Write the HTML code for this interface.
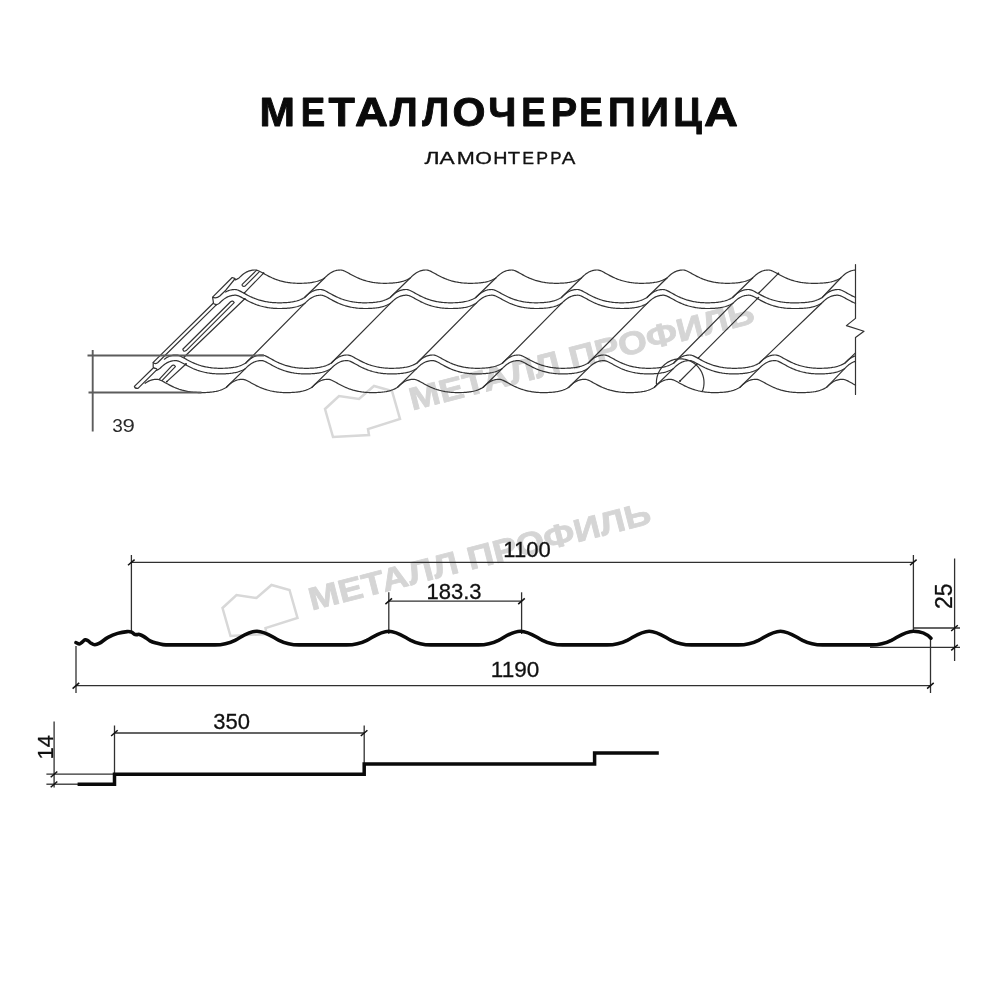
<!DOCTYPE html>
<html><head><meta charset="utf-8">
<title>Металлочерепица Ламонтерра</title>
<style>
html,body{margin:0;padding:0;background:#fff;}
body{width:1000px;height:1000px;position:relative;overflow:hidden;font-family:"Liberation Sans",sans-serif;}
svg{position:absolute;left:0;top:0;will-change:transform;}
.t{font-family:"Liberation Sans",sans-serif;fill:#111;stroke:#111;stroke-width:0.3px;}
</style></head><body>
<svg width="1000" height="1000" viewBox="0 0 1000 1000">
<rect width="1000" height="1000" fill="#fff"/>
<g>
<path transform="translate(0,0)" d="M325,409 L339,396 L359,399 L374,386 L392,391 L400,419 L368,429 L369,435 L333,437 Z" fill="none" stroke="#d8d8d8" stroke-width="2.5" stroke-linejoin="miter"/>
<text transform="translate(412.3,410.6) rotate(-14.4)" font-family="Liberation Sans, sans-serif" font-weight="bold" font-size="32" textLength="355" lengthAdjust="spacingAndGlyphs" fill="#d5d5d5" stroke="#d5d5d5" stroke-width="0.8" stroke-linejoin="round">МЕТАЛЛ ПРОФИЛЬ</text>
</g>
<g>
<path transform="translate(-102.5,199)" d="M325,409 L339,396 L359,399 L374,386 L392,391 L400,419 L368,429 L369,435 L333,437 Z" fill="none" stroke="#d8d8d8" stroke-width="2.5" stroke-linejoin="miter"/>
<text transform="translate(311.8,610.6) rotate(-14.4)" font-family="Liberation Sans, sans-serif" font-weight="bold" font-size="32" textLength="352" lengthAdjust="spacingAndGlyphs" fill="#d5d5d5" stroke="#d5d5d5" stroke-width="0.8" stroke-linejoin="round">МЕТАЛЛ ПРОФИЛЬ</text>
</g>
<text transform="translate(259.59,126.2) scale(1.0385,1)" font-family="Liberation Sans, sans-serif" font-weight="bold" font-size="41" fill="#0a0a0a" stroke="#0a0a0a" stroke-width="0.9" stroke-linejoin="round">М</text>
<text transform="translate(300.76,126.2) scale(0.8944,1)" font-family="Liberation Sans, sans-serif" font-weight="bold" font-size="41" fill="#0a0a0a" stroke="#0a0a0a" stroke-width="0.9" stroke-linejoin="round">Е</text>
<text transform="translate(328.55,126.2) scale(1.0526,1)" font-family="Liberation Sans, sans-serif" font-weight="bold" font-size="41" fill="#0a0a0a" stroke="#0a0a0a" stroke-width="0.9" stroke-linejoin="round">Т</text>
<text transform="translate(355.04,126.2) scale(1.1140,1)" font-family="Liberation Sans, sans-serif" font-weight="bold" font-size="41" fill="#0a0a0a" stroke="#0a0a0a" stroke-width="0.9" stroke-linejoin="round">А</text>
<text transform="translate(389.75,126.2) scale(0.9709,1)" font-family="Liberation Sans, sans-serif" font-weight="bold" font-size="41" fill="#0a0a0a" stroke="#0a0a0a" stroke-width="0.9" stroke-linejoin="round">Л</text>
<text transform="translate(422.25,126.2) scale(0.9366,1)" font-family="Liberation Sans, sans-serif" font-weight="bold" font-size="41" fill="#0a0a0a" stroke="#0a0a0a" stroke-width="0.9" stroke-linejoin="round">Л</text>
<text transform="translate(452.43,126.2) scale(1.0349,1)" font-family="Liberation Sans, sans-serif" font-weight="bold" font-size="41" fill="#0a0a0a" stroke="#0a0a0a" stroke-width="0.9" stroke-linejoin="round">О</text>
<text transform="translate(488.37,126.2) scale(0.9777,1)" font-family="Liberation Sans, sans-serif" font-weight="bold" font-size="41" fill="#0a0a0a" stroke="#0a0a0a" stroke-width="0.9" stroke-linejoin="round">Ч</text>
<text transform="translate(521.17,126.2) scale(0.8902,1)" font-family="Liberation Sans, sans-serif" font-weight="bold" font-size="41" fill="#0a0a0a" stroke="#0a0a0a" stroke-width="0.9" stroke-linejoin="round">Е</text>
<text transform="translate(550.67,126.2) scale(0.9662,1)" font-family="Liberation Sans, sans-serif" font-weight="bold" font-size="41" fill="#0a0a0a" stroke="#0a0a0a" stroke-width="0.9" stroke-linejoin="round">Р</text>
<text transform="translate(579.26,126.2) scale(0.8565,1)" font-family="Liberation Sans, sans-serif" font-weight="bold" font-size="41" fill="#0a0a0a" stroke="#0a0a0a" stroke-width="0.9" stroke-linejoin="round">Е</text>
<text transform="translate(607.94,126.2) scale(0.9408,1)" font-family="Liberation Sans, sans-serif" font-weight="bold" font-size="41" fill="#0a0a0a" stroke="#0a0a0a" stroke-width="0.9" stroke-linejoin="round">П</text>
<text transform="translate(640.16,126.2) scale(0.9736,1)" font-family="Liberation Sans, sans-serif" font-weight="bold" font-size="41" fill="#0a0a0a" stroke="#0a0a0a" stroke-width="0.9" stroke-linejoin="round">И</text>
<text transform="translate(673.30,126.2) scale(0.9547,1)" font-family="Liberation Sans, sans-serif" font-weight="bold" font-size="41" fill="#0a0a0a" stroke="#0a0a0a" stroke-width="0.9" stroke-linejoin="round">Ц</text>
<text transform="translate(703.92,126.2) scale(1.1459,1)" font-family="Liberation Sans, sans-serif" font-weight="bold" font-size="41" fill="#0a0a0a" stroke="#0a0a0a" stroke-width="0.9" stroke-linejoin="round">А</text>
<text transform="translate(424.55,163.5) scale(1.4748,1)" font-family="Liberation Sans, sans-serif" font-weight="normal" font-size="15.6" fill="#111" stroke="#111" stroke-width="0.3" stroke-linejoin="round">Л</text>
<text transform="translate(439.55,163.5) scale(1.4597,1)" font-family="Liberation Sans, sans-serif" font-weight="normal" font-size="15.6" fill="#111" stroke="#111" stroke-width="0.3" stroke-linejoin="round">А</text>
<text transform="translate(456.86,163.5) scale(1.3893,1)" font-family="Liberation Sans, sans-serif" font-weight="normal" font-size="15.6" fill="#111" stroke="#111" stroke-width="0.3" stroke-linejoin="round">М</text>
<text transform="translate(475.15,163.5) scale(1.3706,1)" font-family="Liberation Sans, sans-serif" font-weight="normal" font-size="15.6" fill="#111" stroke="#111" stroke-width="0.3" stroke-linejoin="round">О</text>
<text transform="translate(493.21,163.5) scale(1.2650,1)" font-family="Liberation Sans, sans-serif" font-weight="normal" font-size="15.6" fill="#111" stroke="#111" stroke-width="0.3" stroke-linejoin="round">Н</text>
<text transform="translate(507.83,163.5) scale(1.2971,1)" font-family="Liberation Sans, sans-serif" font-weight="normal" font-size="15.6" fill="#111" stroke="#111" stroke-width="0.3" stroke-linejoin="round">Т</text>
<text transform="translate(522.36,163.5) scale(1.1369,1)" font-family="Liberation Sans, sans-serif" font-weight="normal" font-size="15.6" fill="#111" stroke="#111" stroke-width="0.3" stroke-linejoin="round">Е</text>
<text transform="translate(536.36,163.5) scale(1.1369,1)" font-family="Liberation Sans, sans-serif" font-weight="normal" font-size="15.6" fill="#111" stroke="#111" stroke-width="0.3" stroke-linejoin="round">Р</text>
<text transform="translate(550.22,163.5) scale(1.0901,1)" font-family="Liberation Sans, sans-serif" font-weight="normal" font-size="15.6" fill="#111" stroke="#111" stroke-width="0.3" stroke-linejoin="round">Р</text>
<text transform="translate(561.75,163.5) scale(1.3070,1)" font-family="Liberation Sans, sans-serif" font-weight="normal" font-size="15.6" fill="#111" stroke="#111" stroke-width="0.3" stroke-linejoin="round">А</text>
<g fill="none" stroke="#333" stroke-width="1.2" stroke-linecap="round" stroke-linejoin="round">
<path d="M235.40,279.88 L236.40,279.41 L237.40,278.90 L238.40,278.35 L239.00,278.00 L239.40,277.59 L240.40,276.61 L241.40,275.69 L242.40,274.82 L243.40,274.03 L244.40,273.31 L245.40,272.66 L246.40,272.09 L247.40,271.60 L248.40,271.18 L249.40,270.83 L250.40,270.55 L251.40,270.33 L252.40,270.17 L253.40,270.06 L254.40,270.01 L255.00,270.00 L255.40,270.02 L256.40,270.16 L257.40,270.44 L258.40,270.81 L259.40,271.26 L260.40,271.75 L261.40,272.28 L262.40,272.82 L263.40,273.38 L264.40,273.94 L265.40,274.50 L266.40,275.04 L267.40,275.58 L268.40,276.10 L269.40,276.60 L270.40,277.08 L271.40,277.55 L272.40,278.00 L273.40,278.42 L274.40,278.83 L275.40,279.22 L276.40,279.59 L277.40,279.94 L278.40,280.26 L279.40,280.57 L280.40,280.87 L281.40,281.14 L282.40,281.39 L283.40,281.63 L284.40,281.85 L285.40,282.05 L286.40,282.24 L287.40,282.40 L288.40,282.55 L289.40,282.69 L290.40,282.81 L291.40,282.93 L292.40,283.02 L293.40,283.10 L294.40,283.16 L295.40,283.22 L296.40,283.25 L297.40,283.28 L298.40,283.29 L299.40,283.30 L300.40,283.29 L301.40,283.28 L302.40,283.26 L303.40,283.23 L304.40,283.19 L305.40,283.13 L306.40,283.07 L307.40,283.00 L308.40,282.91 L309.40,282.80 L310.40,282.69 L311.40,282.55 L312.40,282.39 L313.40,282.21 L314.40,282.01 L315.40,281.77 L316.40,281.51 L317.40,281.22 L318.40,280.90 L319.40,280.54 L320.40,280.14 L321.40,279.70 L322.40,279.22 L323.40,278.69 L324.40,278.12 L324.60,278.00 L325.40,277.20 L326.40,276.24 L327.40,275.33 L328.40,274.49 L329.40,273.73 L330.40,273.04 L331.40,272.42 L332.40,271.89 L333.40,271.42 L334.40,271.03 L335.40,270.71 L336.40,270.45 L337.40,270.26 L338.40,270.12 L339.40,270.04 L340.40,270.00 L340.60,270.00 L341.40,270.06 L342.40,270.26 L343.40,270.57 L344.40,270.98 L345.40,271.45 L346.40,271.96 L347.40,272.49 L348.40,273.05 L349.40,273.61 L350.40,274.16 L351.40,274.72 L352.40,275.26 L353.40,275.79 L354.40,276.30 L355.40,276.79 L356.40,277.27 L357.40,277.73 L358.40,278.17 L359.40,278.59 L360.40,278.99 L361.40,279.37 L362.40,279.73 L363.40,280.07 L364.40,280.39 L365.40,280.69 L366.40,280.97 L367.40,281.24 L368.40,281.49 L369.40,281.71 L370.40,281.93 L371.40,282.12 L372.40,282.30 L373.40,282.47 L374.40,282.61 L375.40,282.75 L376.40,282.86 L377.40,282.96 L378.40,283.05 L379.40,283.12 L380.40,283.19 L381.40,283.23 L382.40,283.27 L383.40,283.29 L384.40,283.30 L385.40,283.30 L386.40,283.29 L387.40,283.27 L388.40,283.25 L389.40,283.21 L390.40,283.17 L391.40,283.11 L392.40,283.04 L393.40,282.96 L394.40,282.87 L395.40,282.76 L396.40,282.63 L397.40,282.49 L398.40,282.32 L399.40,282.13 L400.40,281.92 L401.40,281.67 L402.40,281.40 L403.40,281.10 L404.40,280.76 L405.40,280.38 L406.40,279.97 L407.40,279.51 L408.40,279.01 L409.40,278.47 L410.20,278.00 L410.40,277.80 L411.40,276.81 L412.40,275.87 L413.40,274.99 L414.40,274.18 L415.40,273.44 L416.40,272.78 L417.40,272.20 L418.40,271.69 L419.40,271.26 L420.40,270.89 L421.40,270.60 L422.40,270.37 L423.40,270.20 L424.40,270.08 L425.40,270.02 L426.20,270.00 L426.40,270.01 L427.40,270.12 L428.40,270.37 L429.40,270.73 L430.40,271.16 L431.40,271.65 L432.40,272.17 L433.40,272.71 L434.40,273.27 L435.40,273.83 L436.40,274.39 L437.40,274.93 L438.40,275.47 L439.40,275.99 L440.40,276.50 L441.40,276.99 L442.40,277.46 L443.40,277.91 L444.40,278.34 L445.40,278.75 L446.40,279.14 L447.40,279.52 L448.40,279.87 L449.40,280.20 L450.40,280.51 L451.40,280.81 L452.40,281.08 L453.40,281.34 L454.40,281.58 L455.40,281.80 L456.40,282.01 L457.40,282.20 L458.40,282.37 L459.40,282.53 L460.40,282.67 L461.40,282.79 L462.40,282.91 L463.40,283.00 L464.40,283.09 L465.40,283.15 L466.40,283.21 L467.40,283.25 L468.40,283.28 L469.40,283.29 L470.40,283.30 L471.40,283.29 L472.40,283.28 L473.40,283.26 L474.40,283.23 L475.40,283.19 L476.40,283.15 L477.40,283.09 L478.40,283.01 L479.40,282.93 L480.40,282.83 L481.40,282.71 L482.40,282.58 L483.40,282.42 L484.40,282.25 L485.40,282.05 L486.40,281.82 L487.40,281.57 L488.40,281.29 L489.40,280.97 L490.40,280.61 L491.40,280.22 L492.40,279.79 L493.40,279.32 L494.40,278.80 L495.40,278.24 L495.80,278.00 L496.40,277.39 L497.40,276.42 L498.40,275.51 L499.40,274.66 L500.40,273.88 L501.40,273.17 L502.40,272.54 L503.40,271.99 L504.40,271.51 L505.40,271.10 L506.40,270.77 L507.40,270.50 L508.40,270.29 L509.40,270.14 L510.40,270.05 L511.40,270.00 L511.80,270.00 L512.40,270.03 L513.40,270.21 L514.40,270.51 L515.40,270.89 L516.40,271.35 L517.40,271.85 L518.40,272.39 L519.40,272.94 L520.40,273.49 L521.40,274.05 L522.40,274.61 L523.40,275.15 L524.40,275.68 L525.40,276.20 L526.40,276.70 L527.40,277.18 L528.40,277.64 L529.40,278.09 L530.40,278.51 L531.40,278.91 L532.40,279.29 L533.40,279.66 L534.40,280.00 L535.40,280.33 L536.40,280.63 L537.40,280.92 L538.40,281.19 L539.40,281.44 L540.40,281.67 L541.40,281.89 L542.40,282.08 L543.40,282.27 L544.40,282.43 L545.40,282.58 L546.40,282.72 L547.40,282.84 L548.40,282.95 L549.40,283.03 L550.40,283.11 L551.40,283.17 L552.40,283.22 L553.40,283.26 L554.40,283.28 L555.40,283.30 L556.40,283.30 L557.40,283.29 L558.40,283.28 L559.40,283.25 L560.40,283.22 L561.40,283.18 L562.40,283.12 L563.40,283.06 L564.40,282.98 L565.40,282.89 L566.40,282.78 L567.40,282.66 L568.40,282.52 L569.40,282.35 L570.40,282.17 L571.40,281.96 L572.40,281.73 L573.40,281.46 L574.40,281.16 L575.40,280.83 L576.40,280.46 L577.40,280.05 L578.40,279.61 L579.40,279.11 L580.40,278.58 L581.40,278.00 L582.40,277.00 L583.40,276.05 L584.40,275.16 L585.40,274.34 L586.40,273.59 L587.40,272.91 L588.40,272.31 L589.40,271.79 L590.40,271.34 L591.40,270.96 L592.40,270.65 L593.40,270.41 L594.40,270.22 L595.40,270.10 L596.40,270.02 L597.40,270.00 L598.40,270.09 L599.40,270.32 L600.40,270.65 L601.40,271.07 L602.40,271.55 L603.40,272.06 L604.40,272.60 L605.40,273.16 L606.40,273.72 L607.40,274.28 L608.40,274.83 L609.40,275.36 L610.40,275.89 L611.40,276.40 L612.40,276.89 L613.40,277.37 L614.40,277.82 L615.40,278.26 L616.40,278.67 L617.40,279.07 L618.40,279.44 L619.40,279.80 L620.40,280.13 L621.40,280.45 L622.40,280.75 L623.40,281.03 L624.40,281.29 L625.40,281.53 L626.40,281.76 L627.40,281.97 L628.40,282.16 L629.40,282.33 L630.40,282.50 L631.40,282.64 L632.40,282.77 L633.40,282.88 L634.40,282.98 L635.40,283.07 L636.40,283.14 L637.40,283.20 L638.40,283.24 L639.40,283.28 L640.40,283.29 L641.40,283.30 L642.40,283.30 L643.40,283.29 L644.40,283.27 L645.40,283.24 L646.40,283.20 L647.40,283.16 L648.40,283.10 L649.40,283.03 L650.40,282.95 L651.40,282.85 L652.40,282.74 L653.40,282.60 L654.40,282.45 L655.40,282.28 L656.40,282.09 L657.40,281.87 L658.40,281.62 L659.40,281.34 L660.40,281.03 L661.40,280.69 L662.40,280.30 L663.40,279.88 L664.40,279.41 L665.40,278.90 L666.40,278.35 L667.00,278.00 L667.40,277.59 L668.40,276.61 L669.40,275.69 L670.40,274.82 L671.40,274.03 L672.40,273.31 L673.40,272.66 L674.40,272.09 L675.40,271.60 L676.40,271.18 L677.40,270.83 L678.40,270.55 L679.40,270.33 L680.40,270.17 L681.40,270.06 L682.40,270.01 L683.00,270.00 L683.40,270.02 L684.40,270.16 L685.40,270.44 L686.40,270.81 L687.40,271.26 L688.40,271.75 L689.40,272.28 L690.40,272.82 L691.40,273.38 L692.40,273.94 L693.40,274.50 L694.40,275.04 L695.40,275.58 L696.40,276.10 L697.40,276.60 L698.40,277.08 L699.40,277.55 L700.40,278.00 L701.40,278.42 L702.40,278.83 L703.40,279.22 L704.40,279.59 L705.40,279.94 L706.40,280.26 L707.40,280.57 L708.40,280.87 L709.40,281.14 L710.40,281.39 L711.40,281.63 L712.40,281.85 L713.40,282.05 L714.40,282.24 L715.40,282.40 L716.40,282.55 L717.40,282.69 L718.40,282.81 L719.40,282.93 L720.40,283.02 L721.40,283.10 L722.40,283.16 L723.40,283.22 L724.40,283.25 L725.40,283.28 L726.40,283.29 L727.40,283.30 L728.40,283.29 L729.40,283.28 L730.40,283.26 L731.40,283.23 L732.40,283.19 L733.40,283.13 L734.40,283.07 L735.40,283.00 L736.40,282.91 L737.40,282.80 L738.40,282.69 L739.40,282.55 L740.40,282.39 L741.40,282.21 L742.40,282.01 L743.40,281.77 L744.40,281.51 L745.40,281.22 L746.40,280.90 L747.40,280.54 L748.40,280.14 L749.40,279.70 L750.40,279.22 L751.40,278.69 L752.40,278.12 L752.60,278.00 L753.40,277.20 L754.40,276.24 L755.40,275.33 L756.40,274.49 L757.40,273.73 L758.40,273.04 L759.40,272.42 L760.40,271.89 L761.40,271.42 L762.40,271.03 L763.40,270.71 L764.40,270.45 L765.40,270.26 L766.40,270.12 L767.40,270.04 L768.40,270.00 L768.60,270.00 L769.40,270.06 L770.40,270.26 L771.40,270.57 L772.40,270.98 L773.40,271.45 L774.40,271.96 L775.40,272.49 L776.40,273.05 L777.40,273.61 L778.40,274.16 L779.40,274.72 L780.40,275.26 L781.40,275.79 L782.40,276.30 L783.40,276.79 L784.40,277.27 L785.40,277.73 L786.40,278.17 L787.40,278.59 L788.40,278.99 L789.40,279.37 L790.40,279.73 L791.40,280.07 L792.40,280.39 L793.40,280.69 L794.40,280.97 L795.40,281.24 L796.40,281.49 L797.40,281.71 L798.40,281.93 L799.40,282.12 L800.40,282.30 L801.40,282.47 L802.40,282.61 L803.40,282.75 L804.40,282.86 L805.40,282.96 L806.40,283.05 L807.40,283.12 L808.40,283.19 L809.40,283.23 L810.40,283.27 L811.40,283.29 L812.40,283.30 L813.40,283.30 L814.40,283.30 L815.40,283.30 L816.40,283.29 L817.40,283.28 L818.40,283.26 L819.40,283.23 L820.40,283.19 L821.40,283.14 L822.40,283.08 L823.40,283.01 L824.40,282.92 L825.40,282.82 L826.40,282.70 L827.40,282.56 L828.40,282.41 L829.40,282.23 L830.40,282.03 L831.40,281.80 L832.40,281.54 L833.40,281.26 L834.40,280.93 L835.40,280.58 L836.40,280.18 L837.40,279.75 L838.40,279.27 L839.40,278.74 L840.40,278.18 L840.70,278.00 L841.40,277.29 L842.40,276.33 L843.40,275.42 L844.40,274.58 L845.40,273.80 L846.40,273.10 L847.40,272.48 L848.40,271.94 L849.40,271.47 L850.40,271.07 L851.40,270.74 L852.40,270.47 L853.40,270.27 L854.40,270.13 L855.40,270.04 L855.50,270.04"/>
<path d="M225.60,292.04 L226.60,291.49 L227.60,291.01 L228.60,290.60 L229.60,290.27 L230.60,290.00 L231.60,289.79 L232.60,289.64 L233.60,289.55 L234.60,289.50 L235.00,289.50 L235.60,289.53 L236.60,289.71 L237.60,290.01 L238.60,290.39 L239.60,290.85 L240.60,291.35 L241.60,291.89 L242.60,292.44 L243.60,292.99 L244.60,293.55 L245.60,294.11 L246.60,294.65 L247.60,295.18 L248.60,295.70 L249.60,296.20 L250.60,296.68 L251.60,297.14 L252.60,297.59 L253.60,298.01 L254.60,298.41 L255.60,298.79 L256.60,299.16 L257.60,299.50 L258.60,299.83 L259.60,300.13 L260.60,300.42 L261.60,300.69 L262.60,300.94 L263.60,301.17 L264.60,301.39 L265.60,301.58 L266.60,301.77 L267.60,301.93 L268.60,302.08 L269.60,302.22 L270.60,302.34 L271.60,302.45 L272.60,302.53 L273.60,302.61 L274.60,302.67 L275.60,302.72 L276.60,302.76 L277.60,302.78 L278.60,302.80 L279.60,302.80 L280.60,302.79 L281.60,302.78 L282.60,302.75 L283.60,302.72 L284.60,302.68 L285.60,302.62 L286.60,302.56 L287.60,302.48 L288.60,302.39 L289.60,302.28 L290.60,302.16 L291.60,302.02 L292.60,301.85 L293.60,301.67 L294.60,301.46 L295.60,301.23 L296.60,300.96 L297.60,300.66 L298.60,300.33 L299.60,299.96 L300.60,299.55 L301.60,299.11 L302.60,298.61 L303.60,298.08 L304.60,297.50 L305.60,296.50 L306.60,295.55 L307.60,294.66 L308.60,293.84 L309.60,293.09 L310.60,292.41 L311.60,291.81 L312.60,291.29 L313.60,290.84 L314.60,290.46 L315.60,290.15 L316.60,289.91 L317.60,289.72 L318.60,289.60 L319.60,289.52 L320.60,289.50 L321.60,289.59 L322.60,289.82 L323.60,290.15 L324.60,290.57 L325.60,291.05 L326.60,291.56 L327.60,292.10 L328.60,292.66 L329.60,293.22 L330.60,293.78 L331.60,294.33 L332.60,294.86 L333.60,295.39 L334.60,295.90 L335.60,296.39 L336.60,296.87 L337.60,297.32 L338.60,297.76 L339.60,298.17 L340.60,298.57 L341.60,298.94 L342.60,299.30 L343.60,299.63 L344.60,299.95 L345.60,300.25 L346.60,300.53 L347.60,300.79 L348.60,301.03 L349.60,301.26 L350.60,301.47 L351.60,301.66 L352.60,301.83 L353.60,302.00 L354.60,302.14 L355.60,302.27 L356.60,302.38 L357.60,302.48 L358.60,302.57 L359.60,302.64 L360.60,302.70 L361.60,302.74 L362.60,302.78 L363.60,302.79 L364.60,302.80 L365.60,302.80 L366.60,302.79 L367.60,302.77 L368.60,302.74 L369.60,302.70 L370.60,302.66 L371.60,302.60 L372.60,302.53 L373.60,302.45 L374.60,302.35 L375.60,302.24 L376.60,302.10 L377.60,301.95 L378.60,301.78 L379.60,301.59 L380.60,301.37 L381.60,301.12 L382.60,300.84 L383.60,300.53 L384.60,300.19 L385.60,299.80 L386.60,299.38 L387.60,298.91 L388.60,298.40 L389.60,297.85 L390.20,297.50 L390.60,297.09 L391.60,296.11 L392.60,295.19 L393.60,294.32 L394.60,293.53 L395.60,292.81 L396.60,292.16 L397.60,291.59 L398.60,291.10 L399.60,290.68 L400.60,290.33 L401.60,290.05 L402.60,289.83 L403.60,289.67 L404.60,289.56 L405.60,289.51 L406.20,289.50 L406.60,289.52 L407.60,289.66 L408.60,289.94 L409.60,290.31 L410.60,290.76 L411.60,291.25 L412.60,291.78 L413.60,292.32 L414.60,292.88 L415.60,293.44 L416.60,294.00 L417.60,294.54 L418.60,295.08 L419.60,295.60 L420.60,296.10 L421.60,296.58 L422.60,297.05 L423.60,297.50 L424.60,297.92 L425.60,298.33 L426.60,298.72 L427.60,299.09 L428.60,299.44 L429.60,299.76 L430.60,300.07 L431.60,300.37 L432.60,300.64 L433.60,300.89 L434.60,301.13 L435.60,301.35 L436.60,301.55 L437.60,301.74 L438.60,301.90 L439.60,302.05 L440.60,302.19 L441.60,302.31 L442.60,302.43 L443.60,302.52 L444.60,302.60 L445.60,302.66 L446.60,302.72 L447.60,302.75 L448.60,302.78 L449.60,302.79 L450.60,302.80 L451.60,302.79 L452.60,302.78 L453.60,302.76 L454.60,302.73 L455.60,302.69 L456.60,302.63 L457.60,302.57 L458.60,302.50 L459.60,302.41 L460.60,302.30 L461.60,302.19 L462.60,302.05 L463.60,301.89 L464.60,301.71 L465.60,301.51 L466.60,301.27 L467.60,301.01 L468.60,300.72 L469.60,300.40 L470.60,300.04 L471.60,299.64 L472.60,299.20 L473.60,298.72 L474.60,298.19 L475.60,297.62 L475.80,297.50 L476.60,296.70 L477.60,295.74 L478.60,294.83 L479.60,293.99 L480.60,293.23 L481.60,292.54 L482.60,291.92 L483.60,291.39 L484.60,290.92 L485.60,290.53 L486.60,290.21 L487.60,289.95 L488.60,289.76 L489.60,289.62 L490.60,289.54 L491.60,289.50 L491.80,289.50 L492.60,289.56 L493.60,289.76 L494.60,290.07 L495.60,290.48 L496.60,290.95 L497.60,291.46 L498.60,291.99 L499.60,292.55 L500.60,293.11 L501.60,293.66 L502.60,294.22 L503.60,294.76 L504.60,295.29 L505.60,295.80 L506.60,296.29 L507.60,296.77 L508.60,297.23 L509.60,297.67 L510.60,298.09 L511.60,298.49 L512.60,298.87 L513.60,299.23 L514.60,299.57 L515.60,299.89 L516.60,300.19 L517.60,300.47 L518.60,300.74 L519.60,300.99 L520.60,301.21 L521.60,301.43 L522.60,301.62 L523.60,301.80 L524.60,301.97 L525.60,302.11 L526.60,302.25 L527.60,302.36 L528.60,302.46 L529.60,302.55 L530.60,302.62 L531.60,302.69 L532.60,302.73 L533.60,302.77 L534.60,302.79 L535.60,302.80 L536.60,302.80 L537.60,302.79 L538.60,302.77 L539.60,302.75 L540.60,302.71 L541.60,302.67 L542.60,302.61 L543.60,302.54 L544.60,302.46 L545.60,302.37 L546.60,302.26 L547.60,302.13 L548.60,301.99 L549.60,301.82 L550.60,301.63 L551.60,301.42 L552.60,301.17 L553.60,300.90 L554.60,300.60 L555.60,300.26 L556.60,299.88 L557.60,299.47 L558.60,299.01 L559.60,298.51 L560.60,297.97 L561.40,297.50 L561.60,297.30 L562.60,296.31 L563.60,295.37 L564.60,294.49 L565.60,293.68 L566.60,292.94 L567.60,292.28 L568.60,291.70 L569.60,291.19 L570.60,290.76 L571.60,290.39 L572.60,290.10 L573.60,289.87 L574.60,289.70 L575.60,289.58 L576.60,289.52 L577.40,289.50 L577.60,289.51 L578.60,289.62 L579.60,289.87 L580.60,290.23 L581.60,290.66 L582.60,291.15 L583.60,291.67 L584.60,292.21 L585.60,292.77 L586.60,293.33 L587.60,293.89 L588.60,294.43 L589.60,294.97 L590.60,295.49 L591.60,296.00 L592.60,296.49 L593.60,296.96 L594.60,297.41 L595.60,297.84 L596.60,298.25 L597.60,298.64 L598.60,299.02 L599.60,299.37 L600.60,299.70 L601.60,300.01 L602.60,300.31 L603.60,300.58 L604.60,300.84 L605.60,301.08 L606.60,301.30 L607.60,301.51 L608.60,301.70 L609.60,301.87 L610.60,302.03 L611.60,302.17 L612.60,302.29 L613.60,302.41 L614.60,302.50 L615.60,302.59 L616.60,302.65 L617.60,302.71 L618.60,302.75 L619.60,302.78 L620.60,302.79 L621.60,302.80 L622.60,302.79 L623.60,302.78 L624.60,302.76 L625.60,302.73 L626.60,302.69 L627.60,302.65 L628.60,302.59 L629.60,302.51 L630.60,302.43 L631.60,302.33 L632.60,302.21 L633.60,302.08 L634.60,301.92 L635.60,301.75 L636.60,301.55 L637.60,301.32 L638.60,301.07 L639.60,300.79 L640.60,300.47 L641.60,300.11 L642.60,299.72 L643.60,299.29 L644.60,298.82 L645.60,298.30 L646.60,297.74 L647.00,297.50 L647.60,296.89 L648.60,295.92 L649.60,295.01 L650.60,294.16 L651.60,293.38 L652.60,292.67 L653.60,292.04 L654.60,291.49 L655.60,291.01 L656.60,290.60 L657.60,290.27 L658.60,290.00 L659.60,289.79 L660.60,289.64 L661.60,289.55 L662.60,289.50 L663.00,289.50 L663.60,289.53 L664.60,289.71 L665.60,290.01 L666.60,290.39 L667.60,290.85 L668.60,291.35 L669.60,291.89 L670.60,292.44 L671.60,292.99 L672.60,293.55 L673.60,294.11 L674.60,294.65 L675.60,295.18 L676.60,295.70 L677.60,296.20 L678.60,296.68 L679.60,297.14 L680.60,297.59 L681.60,298.01 L682.60,298.41 L683.60,298.79 L684.60,299.16 L685.60,299.50 L686.60,299.83 L687.60,300.13 L688.60,300.42 L689.60,300.69 L690.60,300.94 L691.60,301.17 L692.60,301.39 L693.60,301.58 L694.60,301.77 L695.60,301.93 L696.60,302.08 L697.60,302.22 L698.60,302.34 L699.60,302.45 L700.60,302.53 L701.60,302.61 L702.60,302.67 L703.60,302.72 L704.60,302.76 L705.60,302.78 L706.60,302.80 L707.60,302.80 L708.60,302.79 L709.60,302.78 L710.60,302.75 L711.60,302.72 L712.60,302.68 L713.60,302.62 L714.60,302.56 L715.60,302.48 L716.60,302.39 L717.60,302.28 L718.60,302.16 L719.60,302.02 L720.60,301.85 L721.60,301.67 L722.60,301.46 L723.60,301.23 L724.60,300.96 L725.60,300.66 L726.60,300.33 L727.60,299.96 L728.60,299.55 L729.60,299.11 L730.60,298.61 L731.60,298.08 L732.60,297.50 L733.60,296.50 L734.60,295.55 L735.60,294.66 L736.60,293.84 L737.60,293.09 L738.60,292.41 L739.60,291.81 L740.60,291.29 L741.60,290.84 L742.60,290.46 L743.60,290.15 L744.60,289.91 L745.60,289.72 L746.60,289.60 L747.60,289.52 L748.60,289.50 L749.60,289.59 L750.60,289.82 L751.60,290.15 L752.60,290.57 L753.60,291.05 L754.60,291.56 L755.60,292.10 L756.60,292.66 L757.60,293.22 L758.60,293.78 L759.60,294.33 L760.60,294.86 L761.60,295.39 L762.60,295.90 L763.60,296.39 L764.60,296.87 L765.60,297.32 L766.60,297.76 L767.60,298.17 L768.60,298.57 L769.60,298.94 L770.60,299.30 L771.60,299.63 L772.60,299.95 L773.60,300.25 L774.60,300.53 L775.60,300.79 L776.60,301.03 L777.60,301.26 L778.60,301.47 L779.60,301.66 L780.60,301.83 L781.60,302.00 L782.60,302.14 L783.60,302.27 L784.60,302.38 L785.60,302.48 L786.60,302.57 L787.60,302.64 L788.60,302.70 L789.60,302.74 L790.60,302.78 L791.60,302.79 L792.60,302.80 L793.60,302.80 L794.60,302.80 L795.60,302.80 L796.60,302.80 L797.60,302.80 L798.60,302.79 L799.60,302.77 L800.60,302.74 L801.60,302.70 L802.60,302.66 L803.60,302.60 L804.60,302.53 L805.60,302.45 L806.60,302.35 L807.60,302.24 L808.60,302.10 L809.60,301.95 L810.60,301.78 L811.60,301.59 L812.60,301.37 L813.60,301.12 L814.60,300.84 L815.60,300.53 L816.60,300.19 L817.60,299.80 L818.60,299.38 L819.60,298.91 L820.60,298.40 L821.60,297.85 L822.20,297.50 L822.60,297.09 L823.60,296.11 L824.60,295.19 L825.60,294.32 L826.60,293.53 L827.60,292.81 L828.60,292.16 L829.60,291.59 L830.60,291.10 L831.60,290.68 L832.60,290.33 L833.60,290.05 L834.60,289.83 L835.60,289.67 L836.60,289.56 L837.60,289.51 L838.20,289.50 L838.60,289.52 L839.60,289.66 L840.60,289.94 L841.60,290.31 L842.60,290.76 L843.60,291.25 L844.60,291.78 L845.60,292.32 L846.60,292.88 L847.60,293.44 L848.60,294.00 L849.60,294.54 L850.60,295.08 L851.60,295.60 L852.60,296.10 L853.60,296.58 L854.60,297.05 L855.50,297.45"/>
<path d="M215.60,305.17 L216.60,304.71 L217.60,304.21 L218.60,303.67 L219.40,303.20 L219.60,303.00 L220.60,302.01 L221.60,301.07 L222.60,300.19 L223.60,299.38 L224.60,298.64 L225.60,297.98 L226.60,297.40 L227.60,296.89 L228.60,296.46 L229.60,296.09 L230.60,295.80 L231.60,295.57 L232.60,295.40 L233.60,295.28 L234.60,295.22 L235.40,295.20 L235.60,295.21 L236.60,295.32 L237.60,295.57 L238.60,295.93 L239.60,296.36 L240.60,296.85 L241.60,297.37 L242.60,297.91 L243.60,298.47 L244.60,299.03 L245.60,299.59 L246.60,300.13 L247.60,300.67 L248.60,301.19 L249.60,301.70 L250.60,302.19 L251.60,302.66 L252.60,303.11 L253.60,303.54 L254.60,303.95 L255.60,304.34 L256.60,304.72 L257.60,305.07 L258.60,305.40 L259.60,305.71 L260.60,306.01 L261.60,306.28 L262.60,306.54 L263.60,306.78 L264.60,307.00 L265.60,307.21 L266.60,307.40 L267.60,307.57 L268.60,307.73 L269.60,307.87 L270.60,307.99 L271.60,308.11 L272.60,308.20 L273.60,308.29 L274.60,308.35 L275.60,308.41 L276.60,308.45 L277.60,308.48 L278.60,308.49 L279.60,308.50 L280.60,308.49 L281.60,308.48 L282.60,308.46 L283.60,308.43 L284.60,308.39 L285.60,308.35 L286.60,308.29 L287.60,308.21 L288.60,308.13 L289.60,308.03 L290.60,307.91 L291.60,307.78 L292.60,307.62 L293.60,307.45 L294.60,307.25 L295.60,307.02 L296.60,306.77 L297.60,306.49 L298.60,306.17 L299.60,305.81 L300.60,305.42 L301.60,304.99 L302.60,304.52 L303.60,304.00 L304.60,303.44 L305.00,303.20 L305.60,302.59 L306.60,301.62 L307.60,300.71 L308.60,299.86 L309.60,299.08 L310.60,298.37 L311.60,297.74 L312.60,297.19 L313.60,296.71 L314.60,296.30 L315.60,295.97 L316.60,295.70 L317.60,295.49 L318.60,295.34 L319.60,295.25 L320.60,295.20 L321.00,295.20 L321.60,295.23 L322.60,295.41 L323.60,295.71 L324.60,296.09 L325.60,296.55 L326.60,297.05 L327.60,297.59 L328.60,298.14 L329.60,298.69 L330.60,299.25 L331.60,299.81 L332.60,300.35 L333.60,300.88 L334.60,301.40 L335.60,301.90 L336.60,302.38 L337.60,302.84 L338.60,303.29 L339.60,303.71 L340.60,304.11 L341.60,304.49 L342.60,304.86 L343.60,305.20 L344.60,305.53 L345.60,305.83 L346.60,306.12 L347.60,306.39 L348.60,306.64 L349.60,306.87 L350.60,307.09 L351.60,307.28 L352.60,307.47 L353.60,307.63 L354.60,307.78 L355.60,307.92 L356.60,308.04 L357.60,308.15 L358.60,308.23 L359.60,308.31 L360.60,308.37 L361.60,308.42 L362.60,308.46 L363.60,308.48 L364.60,308.50 L365.60,308.50 L366.60,308.49 L367.60,308.48 L368.60,308.45 L369.60,308.42 L370.60,308.38 L371.60,308.32 L372.60,308.26 L373.60,308.18 L374.60,308.09 L375.60,307.98 L376.60,307.86 L377.60,307.72 L378.60,307.55 L379.60,307.37 L380.60,307.16 L381.60,306.93 L382.60,306.66 L383.60,306.36 L384.60,306.03 L385.60,305.66 L386.60,305.25 L387.60,304.81 L388.60,304.31 L389.60,303.78 L390.60,303.20 L391.60,302.20 L392.60,301.25 L393.60,300.36 L394.60,299.54 L395.60,298.79 L396.60,298.11 L397.60,297.51 L398.60,296.99 L399.60,296.54 L400.60,296.16 L401.60,295.85 L402.60,295.61 L403.60,295.42 L404.60,295.30 L405.60,295.22 L406.60,295.20 L407.60,295.29 L408.60,295.52 L409.60,295.85 L410.60,296.27 L411.60,296.75 L412.60,297.26 L413.60,297.80 L414.60,298.36 L415.60,298.92 L416.60,299.48 L417.60,300.03 L418.60,300.56 L419.60,301.09 L420.60,301.60 L421.60,302.09 L422.60,302.57 L423.60,303.02 L424.60,303.46 L425.60,303.87 L426.60,304.27 L427.60,304.64 L428.60,305.00 L429.60,305.33 L430.60,305.65 L431.60,305.95 L432.60,306.23 L433.60,306.49 L434.60,306.73 L435.60,306.96 L436.60,307.17 L437.60,307.36 L438.60,307.53 L439.60,307.70 L440.60,307.84 L441.60,307.97 L442.60,308.08 L443.60,308.18 L444.60,308.27 L445.60,308.34 L446.60,308.40 L447.60,308.44 L448.60,308.48 L449.60,308.49 L450.60,308.50 L451.60,308.50 L452.60,308.49 L453.60,308.47 L454.60,308.44 L455.60,308.40 L456.60,308.36 L457.60,308.30 L458.60,308.23 L459.60,308.15 L460.60,308.05 L461.60,307.94 L462.60,307.80 L463.60,307.65 L464.60,307.48 L465.60,307.29 L466.60,307.07 L467.60,306.82 L468.60,306.54 L469.60,306.23 L470.60,305.89 L471.60,305.50 L472.60,305.08 L473.60,304.61 L474.60,304.10 L475.60,303.55 L476.20,303.20 L476.60,302.79 L477.60,301.81 L478.60,300.89 L479.60,300.02 L480.60,299.23 L481.60,298.51 L482.60,297.86 L483.60,297.29 L484.60,296.80 L485.60,296.38 L486.60,296.03 L487.60,295.75 L488.60,295.53 L489.60,295.37 L490.60,295.26 L491.60,295.21 L492.20,295.20 L492.60,295.22 L493.60,295.36 L494.60,295.64 L495.60,296.01 L496.60,296.46 L497.60,296.95 L498.60,297.48 L499.60,298.02 L500.60,298.58 L501.60,299.14 L502.60,299.70 L503.60,300.24 L504.60,300.78 L505.60,301.30 L506.60,301.80 L507.60,302.28 L508.60,302.75 L509.60,303.20 L510.60,303.62 L511.60,304.03 L512.60,304.42 L513.60,304.79 L514.60,305.14 L515.60,305.46 L516.60,305.77 L517.60,306.07 L518.60,306.34 L519.60,306.59 L520.60,306.83 L521.60,307.05 L522.60,307.25 L523.60,307.44 L524.60,307.60 L525.60,307.75 L526.60,307.89 L527.60,308.01 L528.60,308.13 L529.60,308.22 L530.60,308.30 L531.60,308.36 L532.60,308.42 L533.60,308.45 L534.60,308.48 L535.60,308.49 L536.60,308.50 L537.60,308.49 L538.60,308.48 L539.60,308.46 L540.60,308.43 L541.60,308.39 L542.60,308.33 L543.60,308.27 L544.60,308.20 L545.60,308.11 L546.60,308.00 L547.60,307.89 L548.60,307.75 L549.60,307.59 L550.60,307.41 L551.60,307.21 L552.60,306.97 L553.60,306.71 L554.60,306.42 L555.60,306.10 L556.60,305.74 L557.60,305.34 L558.60,304.90 L559.60,304.42 L560.60,303.89 L561.60,303.32 L561.80,303.20 L562.60,302.40 L563.60,301.44 L564.60,300.53 L565.60,299.69 L566.60,298.93 L567.60,298.24 L568.60,297.62 L569.60,297.09 L570.60,296.62 L571.60,296.23 L572.60,295.91 L573.60,295.65 L574.60,295.46 L575.60,295.32 L576.60,295.24 L577.60,295.20 L577.80,295.20 L578.60,295.26 L579.60,295.46 L580.60,295.77 L581.60,296.18 L582.60,296.65 L583.60,297.16 L584.60,297.69 L585.60,298.25 L586.60,298.81 L587.60,299.36 L588.60,299.92 L589.60,300.46 L590.60,300.99 L591.60,301.50 L592.60,301.99 L593.60,302.47 L594.60,302.93 L595.60,303.37 L596.60,303.79 L597.60,304.19 L598.60,304.57 L599.60,304.93 L600.60,305.27 L601.60,305.59 L602.60,305.89 L603.60,306.17 L604.60,306.44 L605.60,306.69 L606.60,306.91 L607.60,307.13 L608.60,307.32 L609.60,307.50 L610.60,307.67 L611.60,307.81 L612.60,307.95 L613.60,308.06 L614.60,308.16 L615.60,308.25 L616.60,308.32 L617.60,308.39 L618.60,308.43 L619.60,308.47 L620.60,308.49 L621.60,308.50 L622.60,308.50 L623.60,308.49 L624.60,308.47 L625.60,308.45 L626.60,308.41 L627.60,308.37 L628.60,308.31 L629.60,308.24 L630.60,308.16 L631.60,308.07 L632.60,307.96 L633.60,307.83 L634.60,307.69 L635.60,307.52 L636.60,307.33 L637.60,307.12 L638.60,306.87 L639.60,306.60 L640.60,306.30 L641.60,305.96 L642.60,305.58 L643.60,305.17 L644.60,304.71 L645.60,304.21 L646.60,303.67 L647.40,303.20 L647.60,303.00 L648.60,302.01 L649.60,301.07 L650.60,300.19 L651.60,299.38 L652.60,298.64 L653.60,297.98 L654.60,297.40 L655.60,296.89 L656.60,296.46 L657.60,296.09 L658.60,295.80 L659.60,295.57 L660.60,295.40 L661.60,295.28 L662.60,295.22 L663.40,295.20 L663.60,295.21 L664.60,295.32 L665.60,295.57 L666.60,295.93 L667.60,296.36 L668.60,296.85 L669.60,297.37 L670.60,297.91 L671.60,298.47 L672.60,299.03 L673.60,299.59 L674.60,300.13 L675.60,300.67 L676.60,301.19 L677.60,301.70 L678.60,302.19 L679.60,302.66 L680.60,303.11 L681.60,303.54 L682.60,303.95 L683.60,304.34 L684.60,304.72 L685.60,305.07 L686.60,305.40 L687.60,305.71 L688.60,306.01 L689.60,306.28 L690.60,306.54 L691.60,306.78 L692.60,307.00 L693.60,307.21 L694.60,307.40 L695.60,307.57 L696.60,307.73 L697.60,307.87 L698.60,307.99 L699.60,308.11 L700.60,308.20 L701.60,308.29 L702.60,308.35 L703.60,308.41 L704.60,308.45 L705.60,308.48 L706.60,308.49 L707.60,308.50 L708.60,308.49 L709.60,308.48 L710.60,308.46 L711.60,308.43 L712.60,308.39 L713.60,308.35 L714.60,308.29 L715.60,308.21 L716.60,308.13 L717.60,308.03 L718.60,307.91 L719.60,307.78 L720.60,307.62 L721.60,307.45 L722.60,307.25 L723.60,307.02 L724.60,306.77 L725.60,306.49 L726.60,306.17 L727.60,305.81 L728.60,305.42 L729.60,304.99 L730.60,304.52 L731.60,304.00 L732.60,303.44 L733.00,303.20 L733.60,302.59 L734.60,301.62 L735.60,300.71 L736.60,299.86 L737.60,299.08 L738.60,298.37 L739.60,297.74 L740.60,297.19 L741.60,296.71 L742.60,296.30 L743.60,295.97 L744.60,295.70 L745.60,295.49 L746.60,295.34 L747.60,295.25 L748.60,295.20 L749.00,295.20 L749.60,295.23 L750.60,295.41 L751.60,295.71 L752.60,296.09 L753.60,296.55 L754.60,297.05 L755.60,297.59 L756.60,298.14 L757.60,298.69 L758.60,299.25 L759.60,299.81 L760.60,300.35 L761.60,300.88 L762.60,301.40 L763.60,301.90 L764.60,302.38 L765.60,302.84 L766.60,303.29 L767.60,303.71 L768.60,304.11 L769.60,304.49 L770.60,304.86 L771.60,305.20 L772.60,305.53 L773.60,305.83 L774.60,306.12 L775.60,306.39 L776.60,306.64 L777.60,306.87 L778.60,307.09 L779.60,307.28 L780.60,307.47 L781.60,307.63 L782.60,307.78 L783.60,307.92 L784.60,308.04 L785.60,308.15 L786.60,308.23 L787.60,308.31 L788.60,308.37 L789.60,308.42 L790.60,308.46 L791.60,308.48 L792.60,308.50 L793.60,308.50 L794.60,308.50 L795.60,308.50 L796.60,308.50 L797.60,308.49 L798.60,308.48 L799.60,308.45 L800.60,308.42 L801.60,308.38 L802.60,308.32 L803.60,308.26 L804.60,308.18 L805.60,308.09 L806.60,307.98 L807.60,307.86 L808.60,307.72 L809.60,307.55 L810.60,307.37 L811.60,307.16 L812.60,306.93 L813.60,306.66 L814.60,306.36 L815.60,306.03 L816.60,305.66 L817.60,305.25 L818.60,304.81 L819.60,304.31 L820.60,303.78 L821.60,303.20 L822.60,302.20 L823.60,301.25 L824.60,300.36 L825.60,299.54 L826.60,298.79 L827.60,298.11 L828.60,297.51 L829.60,296.99 L830.60,296.54 L831.60,296.16 L832.60,295.85 L833.60,295.61 L834.60,295.42 L835.60,295.30 L836.60,295.22 L837.60,295.20 L838.60,295.29 L839.60,295.52 L840.60,295.85 L841.60,296.27 L842.60,296.75 L843.60,297.26 L844.60,297.80 L845.60,298.36 L846.60,298.92 L847.60,299.48 L848.60,300.03 L849.60,300.56 L850.60,301.09 L851.60,301.60 L852.60,302.09 L853.60,302.57 L854.60,303.02 L855.50,303.41"/>
<path d="M164.40,359.18 L165.40,358.44 L166.40,357.78 L167.40,357.20 L168.40,356.69 L169.40,356.26 L170.40,355.89 L171.40,355.60 L172.40,355.37 L173.40,355.20 L174.40,355.08 L175.40,355.02 L176.20,355.00 L176.40,355.01 L177.40,355.12 L178.40,355.37 L179.40,355.73 L180.40,356.16 L181.40,356.65 L182.40,357.17 L183.40,357.71 L184.40,358.27 L185.40,358.83 L186.40,359.39 L187.40,359.93 L188.40,360.47 L189.40,360.99 L190.40,361.50 L191.40,361.99 L192.40,362.46 L193.40,362.91 L194.40,363.34 L195.40,363.75 L196.40,364.14 L197.40,364.52 L198.40,364.87 L199.40,365.20 L200.40,365.51 L201.40,365.81 L202.40,366.08 L203.40,366.34 L204.40,366.58 L205.40,366.80 L206.40,367.01 L207.40,367.20 L208.40,367.37 L209.40,367.53 L210.40,367.67 L211.40,367.79 L212.40,367.91 L213.40,368.00 L214.40,368.09 L215.40,368.15 L216.40,368.21 L217.40,368.25 L218.40,368.28 L219.40,368.29 L220.40,368.30 L221.40,368.29 L222.40,368.28 L223.40,368.26 L224.40,368.23 L225.40,368.19 L226.40,368.15 L227.40,368.09 L228.40,368.01 L229.40,367.93 L230.40,367.83 L231.40,367.71 L232.40,367.58 L233.40,367.42 L234.40,367.25 L235.40,367.05 L236.40,366.82 L237.40,366.57 L238.40,366.29 L239.40,365.97 L240.40,365.61 L241.40,365.22 L242.40,364.79 L243.40,364.32 L244.40,363.80 L245.40,363.24 L245.80,363.00 L246.40,362.39 L247.40,361.42 L248.40,360.51 L249.40,359.66 L250.40,358.88 L251.40,358.17 L252.40,357.54 L253.40,356.99 L254.40,356.51 L255.40,356.10 L256.40,355.77 L257.40,355.50 L258.40,355.29 L259.40,355.14 L260.40,355.05 L261.40,355.00 L261.80,355.00 L262.40,355.03 L263.40,355.21 L264.40,355.51 L265.40,355.89 L266.40,356.35 L267.40,356.85 L268.40,357.39 L269.40,357.94 L270.40,358.49 L271.40,359.05 L272.40,359.61 L273.40,360.15 L274.40,360.68 L275.40,361.20 L276.40,361.70 L277.40,362.18 L278.40,362.64 L279.40,363.09 L280.40,363.51 L281.40,363.91 L282.40,364.29 L283.40,364.66 L284.40,365.00 L285.40,365.33 L286.40,365.63 L287.40,365.92 L288.40,366.19 L289.40,366.44 L290.40,366.67 L291.40,366.89 L292.40,367.08 L293.40,367.27 L294.40,367.43 L295.40,367.58 L296.40,367.72 L297.40,367.84 L298.40,367.95 L299.40,368.03 L300.40,368.11 L301.40,368.17 L302.40,368.22 L303.40,368.26 L304.40,368.28 L305.40,368.30 L306.40,368.30 L307.40,368.29 L308.40,368.28 L309.40,368.25 L310.40,368.22 L311.40,368.18 L312.40,368.12 L313.40,368.06 L314.40,367.98 L315.40,367.89 L316.40,367.78 L317.40,367.66 L318.40,367.52 L319.40,367.35 L320.40,367.17 L321.40,366.96 L322.40,366.73 L323.40,366.46 L324.40,366.16 L325.40,365.83 L326.40,365.46 L327.40,365.05 L328.40,364.61 L329.40,364.11 L330.40,363.58 L331.40,363.00 L332.40,362.00 L333.40,361.05 L334.40,360.16 L335.40,359.34 L336.40,358.59 L337.40,357.91 L338.40,357.31 L339.40,356.79 L340.40,356.34 L341.40,355.96 L342.40,355.65 L343.40,355.41 L344.40,355.22 L345.40,355.10 L346.40,355.02 L347.40,355.00 L348.40,355.09 L349.40,355.32 L350.40,355.65 L351.40,356.07 L352.40,356.55 L353.40,357.06 L354.40,357.60 L355.40,358.16 L356.40,358.72 L357.40,359.28 L358.40,359.83 L359.40,360.36 L360.40,360.89 L361.40,361.40 L362.40,361.89 L363.40,362.37 L364.40,362.82 L365.40,363.26 L366.40,363.67 L367.40,364.07 L368.40,364.44 L369.40,364.80 L370.40,365.13 L371.40,365.45 L372.40,365.75 L373.40,366.03 L374.40,366.29 L375.40,366.53 L376.40,366.76 L377.40,366.97 L378.40,367.16 L379.40,367.33 L380.40,367.50 L381.40,367.64 L382.40,367.77 L383.40,367.88 L384.40,367.98 L385.40,368.07 L386.40,368.14 L387.40,368.20 L388.40,368.24 L389.40,368.28 L390.40,368.29 L391.40,368.30 L392.40,368.30 L393.40,368.29 L394.40,368.27 L395.40,368.24 L396.40,368.20 L397.40,368.16 L398.40,368.10 L399.40,368.03 L400.40,367.95 L401.40,367.85 L402.40,367.74 L403.40,367.60 L404.40,367.45 L405.40,367.28 L406.40,367.09 L407.40,366.87 L408.40,366.62 L409.40,366.34 L410.40,366.03 L411.40,365.69 L412.40,365.30 L413.40,364.88 L414.40,364.41 L415.40,363.90 L416.40,363.35 L417.00,363.00 L417.40,362.59 L418.40,361.61 L419.40,360.69 L420.40,359.82 L421.40,359.03 L422.40,358.31 L423.40,357.66 L424.40,357.09 L425.40,356.60 L426.40,356.18 L427.40,355.83 L428.40,355.55 L429.40,355.33 L430.40,355.17 L431.40,355.06 L432.40,355.01 L433.00,355.00 L433.40,355.02 L434.40,355.16 L435.40,355.44 L436.40,355.81 L437.40,356.26 L438.40,356.75 L439.40,357.28 L440.40,357.82 L441.40,358.38 L442.40,358.94 L443.40,359.50 L444.40,360.04 L445.40,360.58 L446.40,361.10 L447.40,361.60 L448.40,362.08 L449.40,362.55 L450.40,363.00 L451.40,363.42 L452.40,363.83 L453.40,364.22 L454.40,364.59 L455.40,364.94 L456.40,365.26 L457.40,365.57 L458.40,365.87 L459.40,366.14 L460.40,366.39 L461.40,366.63 L462.40,366.85 L463.40,367.05 L464.40,367.24 L465.40,367.40 L466.40,367.55 L467.40,367.69 L468.40,367.81 L469.40,367.93 L470.40,368.02 L471.40,368.10 L472.40,368.16 L473.40,368.22 L474.40,368.25 L475.40,368.28 L476.40,368.29 L477.40,368.30 L478.40,368.29 L479.40,368.28 L480.40,368.26 L481.40,368.23 L482.40,368.19 L483.40,368.13 L484.40,368.07 L485.40,368.00 L486.40,367.91 L487.40,367.80 L488.40,367.69 L489.40,367.55 L490.40,367.39 L491.40,367.21 L492.40,367.01 L493.40,366.77 L494.40,366.51 L495.40,366.22 L496.40,365.90 L497.40,365.54 L498.40,365.14 L499.40,364.70 L500.40,364.22 L501.40,363.69 L502.40,363.12 L502.60,363.00 L503.40,362.20 L504.40,361.24 L505.40,360.33 L506.40,359.49 L507.40,358.73 L508.40,358.04 L509.40,357.42 L510.40,356.89 L511.40,356.42 L512.40,356.03 L513.40,355.71 L514.40,355.45 L515.40,355.26 L516.40,355.12 L517.40,355.04 L518.40,355.00 L518.60,355.00 L519.40,355.06 L520.40,355.26 L521.40,355.57 L522.40,355.98 L523.40,356.45 L524.40,356.96 L525.40,357.49 L526.40,358.05 L527.40,358.61 L528.40,359.16 L529.40,359.72 L530.40,360.26 L531.40,360.79 L532.40,361.30 L533.40,361.79 L534.40,362.27 L535.40,362.73 L536.40,363.17 L537.40,363.59 L538.40,363.99 L539.40,364.37 L540.40,364.73 L541.40,365.07 L542.40,365.39 L543.40,365.69 L544.40,365.97 L545.40,366.24 L546.40,366.49 L547.40,366.71 L548.40,366.93 L549.40,367.12 L550.40,367.30 L551.40,367.47 L552.40,367.61 L553.40,367.75 L554.40,367.86 L555.40,367.96 L556.40,368.05 L557.40,368.12 L558.40,368.19 L559.40,368.23 L560.40,368.27 L561.40,368.29 L562.40,368.30 L563.40,368.30 L564.40,368.29 L565.40,368.27 L566.40,368.25 L567.40,368.21 L568.40,368.17 L569.40,368.11 L570.40,368.04 L571.40,367.96 L572.40,367.87 L573.40,367.76 L574.40,367.63 L575.40,367.49 L576.40,367.32 L577.40,367.13 L578.40,366.92 L579.40,366.67 L580.40,366.40 L581.40,366.10 L582.40,365.76 L583.40,365.38 L584.40,364.97 L585.40,364.51 L586.40,364.01 L587.40,363.47 L588.20,363.00 L588.40,362.80 L589.40,361.81 L590.40,360.87 L591.40,359.99 L592.40,359.18 L593.40,358.44 L594.40,357.78 L595.40,357.20 L596.40,356.69 L597.40,356.26 L598.40,355.89 L599.40,355.60 L600.40,355.37 L601.40,355.20 L602.40,355.08 L603.40,355.02 L604.20,355.00 L604.40,355.01 L605.40,355.12 L606.40,355.37 L607.40,355.73 L608.40,356.16 L609.40,356.65 L610.40,357.17 L611.40,357.71 L612.40,358.27 L613.40,358.83 L614.40,359.39 L615.40,359.93 L616.40,360.47 L617.40,360.99 L618.40,361.50 L619.40,361.99 L620.40,362.46 L621.40,362.91 L622.40,363.34 L623.40,363.75 L624.40,364.14 L625.40,364.52 L626.40,364.87 L627.40,365.20 L628.40,365.51 L629.40,365.81 L630.40,366.08 L631.40,366.34 L632.40,366.58 L633.40,366.80 L634.40,367.01 L635.40,367.20 L636.40,367.37 L637.40,367.53 L638.40,367.67 L639.40,367.79 L640.40,367.91 L641.40,368.00 L642.40,368.09 L643.40,368.15 L644.40,368.21 L645.40,368.25 L646.40,368.28 L647.40,368.29 L648.40,368.30 L649.40,368.29 L650.40,368.28 L651.40,368.26 L652.40,368.23 L653.40,368.19 L654.40,368.15 L655.40,368.09 L656.40,368.01 L657.40,367.93 L658.40,367.83 L659.40,367.71 L660.40,367.58 L661.40,367.42 L662.40,367.25 L663.40,367.05 L664.40,366.82 L665.40,366.57 L666.40,366.29 L667.40,365.97 L668.40,365.61 L669.40,365.22 L670.40,364.79 L671.40,364.32 L672.40,363.80 L673.40,363.24 L673.80,363.00 L674.40,362.39 L675.40,361.42 L676.40,360.51 L677.40,359.66 L678.40,358.88 L679.40,358.17 L680.40,357.54 L681.40,356.99 L682.40,356.51 L683.40,356.10 L684.40,355.77 L685.40,355.50 L686.40,355.29 L687.40,355.14 L688.40,355.05 L689.40,355.00 L689.80,355.00 L690.40,355.03 L691.40,355.21 L692.40,355.51 L693.40,355.89 L694.40,356.35 L695.40,356.85 L696.40,357.39 L697.40,357.94 L698.40,358.49 L699.40,359.05 L700.40,359.61 L701.40,360.15 L702.40,360.68 L703.40,361.20 L704.40,361.70 L705.40,362.18 L706.40,362.64 L707.40,363.09 L708.40,363.51 L709.40,363.91 L710.40,364.29 L711.40,364.66 L712.40,365.00 L713.40,365.33 L714.40,365.63 L715.40,365.92 L716.40,366.19 L717.40,366.44 L718.40,366.67 L719.40,366.89 L720.40,367.08 L721.40,367.27 L722.40,367.43 L723.40,367.58 L724.40,367.72 L725.40,367.84 L726.40,367.95 L727.40,368.03 L728.40,368.11 L729.40,368.17 L730.40,368.22 L731.40,368.26 L732.40,368.28 L733.40,368.30 L734.40,368.30 L735.40,368.29 L736.40,368.28 L737.40,368.25 L738.40,368.22 L739.40,368.18 L740.40,368.12 L741.40,368.06 L742.40,367.98 L743.40,367.89 L744.40,367.78 L745.40,367.66 L746.40,367.52 L747.40,367.35 L748.40,367.17 L749.40,366.96 L750.40,366.73 L751.40,366.46 L752.40,366.16 L753.40,365.83 L754.40,365.46 L755.40,365.05 L756.40,364.61 L757.40,364.11 L758.40,363.58 L759.40,363.00 L760.40,362.00 L761.40,361.05 L762.40,360.16 L763.40,359.34 L764.40,358.59 L765.40,357.91 L766.40,357.31 L767.40,356.79 L768.40,356.34 L769.40,355.96 L770.40,355.65 L771.40,355.41 L772.40,355.22 L773.40,355.10 L774.40,355.02 L775.40,355.00 L776.40,355.09 L777.40,355.32 L778.40,355.65 L779.40,356.07 L780.40,356.55 L781.40,357.06 L782.40,357.60 L783.40,358.16 L784.40,358.72 L785.40,359.28 L786.40,359.83 L787.40,360.36 L788.40,360.89 L789.40,361.40 L790.40,361.89 L791.40,362.37 L792.40,362.82 L793.40,363.26 L794.40,363.67 L795.40,364.07 L796.40,364.44 L797.40,364.80 L798.40,365.13 L799.40,365.45 L800.40,365.75 L801.40,366.03 L802.40,366.29 L803.40,366.53 L804.40,366.76 L805.40,366.97 L806.40,367.16 L807.40,367.33 L808.40,367.50 L809.40,367.64 L810.40,367.77 L811.40,367.88 L812.40,367.98 L813.40,368.07 L814.40,368.14 L815.40,368.20 L816.40,368.24 L817.40,368.28 L818.40,368.29 L819.40,368.30 L820.40,368.30 L821.40,368.29 L822.40,368.27 L823.40,368.24 L824.40,368.20 L825.40,368.16 L826.40,368.10 L827.40,368.03 L828.40,367.95 L829.40,367.85 L830.40,367.74 L831.40,367.60 L832.40,367.45 L833.40,367.28 L834.40,367.09 L835.40,366.87 L836.40,366.62 L837.40,366.34 L838.40,366.03 L839.40,365.69 L840.40,365.30 L841.40,364.88 L842.40,364.41 L843.40,363.90 L844.40,363.35 L845.00,363.00 L845.40,362.59 L846.40,361.61 L847.40,360.69 L848.40,359.82 L849.40,359.03 L850.40,358.31 L851.40,357.66 L852.40,357.09 L853.40,356.60 L854.40,356.18 L855.40,355.83 L855.50,355.80"/>
<path d="M156.40,370.39 L157.40,369.92 L158.40,369.40 L159.40,368.84 L159.80,368.60 L160.40,367.99 L161.40,367.02 L162.40,366.11 L163.40,365.26 L164.40,364.48 L165.40,363.77 L166.40,363.14 L167.40,362.59 L168.40,362.11 L169.40,361.70 L170.40,361.37 L171.40,361.10 L172.40,360.89 L173.40,360.74 L174.40,360.65 L175.40,360.60 L175.80,360.60 L176.40,360.63 L177.40,360.81 L178.40,361.11 L179.40,361.49 L180.40,361.95 L181.40,362.45 L182.40,362.99 L183.40,363.54 L184.40,364.09 L185.40,364.65 L186.40,365.21 L187.40,365.75 L188.40,366.28 L189.40,366.80 L190.40,367.30 L191.40,367.78 L192.40,368.24 L193.40,368.69 L194.40,369.11 L195.40,369.51 L196.40,369.89 L197.40,370.26 L198.40,370.60 L199.40,370.93 L200.40,371.23 L201.40,371.52 L202.40,371.79 L203.40,372.04 L204.40,372.27 L205.40,372.49 L206.40,372.68 L207.40,372.87 L208.40,373.03 L209.40,373.18 L210.40,373.32 L211.40,373.44 L212.40,373.55 L213.40,373.63 L214.40,373.71 L215.40,373.77 L216.40,373.82 L217.40,373.86 L218.40,373.88 L219.40,373.90 L220.40,373.90 L221.40,373.89 L222.40,373.88 L223.40,373.85 L224.40,373.82 L225.40,373.78 L226.40,373.72 L227.40,373.66 L228.40,373.58 L229.40,373.49 L230.40,373.38 L231.40,373.26 L232.40,373.12 L233.40,372.95 L234.40,372.77 L235.40,372.56 L236.40,372.33 L237.40,372.06 L238.40,371.76 L239.40,371.43 L240.40,371.06 L241.40,370.65 L242.40,370.21 L243.40,369.71 L244.40,369.18 L245.40,368.60 L246.40,367.60 L247.40,366.65 L248.40,365.76 L249.40,364.94 L250.40,364.19 L251.40,363.51 L252.40,362.91 L253.40,362.39 L254.40,361.94 L255.40,361.56 L256.40,361.25 L257.40,361.01 L258.40,360.82 L259.40,360.70 L260.40,360.62 L261.40,360.60 L262.40,360.69 L263.40,360.92 L264.40,361.25 L265.40,361.67 L266.40,362.15 L267.40,362.66 L268.40,363.20 L269.40,363.76 L270.40,364.32 L271.40,364.88 L272.40,365.43 L273.40,365.96 L274.40,366.49 L275.40,367.00 L276.40,367.49 L277.40,367.97 L278.40,368.42 L279.40,368.86 L280.40,369.27 L281.40,369.67 L282.40,370.04 L283.40,370.40 L284.40,370.73 L285.40,371.05 L286.40,371.35 L287.40,371.63 L288.40,371.89 L289.40,372.13 L290.40,372.36 L291.40,372.57 L292.40,372.76 L293.40,372.93 L294.40,373.10 L295.40,373.24 L296.40,373.37 L297.40,373.48 L298.40,373.58 L299.40,373.67 L300.40,373.74 L301.40,373.80 L302.40,373.84 L303.40,373.88 L304.40,373.89 L305.40,373.90 L306.40,373.90 L307.40,373.89 L308.40,373.87 L309.40,373.84 L310.40,373.80 L311.40,373.76 L312.40,373.70 L313.40,373.63 L314.40,373.55 L315.40,373.45 L316.40,373.34 L317.40,373.20 L318.40,373.05 L319.40,372.88 L320.40,372.69 L321.40,372.47 L322.40,372.22 L323.40,371.94 L324.40,371.63 L325.40,371.29 L326.40,370.90 L327.40,370.48 L328.40,370.01 L329.40,369.50 L330.40,368.95 L331.00,368.60 L331.40,368.19 L332.40,367.21 L333.40,366.29 L334.40,365.42 L335.40,364.63 L336.40,363.91 L337.40,363.26 L338.40,362.69 L339.40,362.20 L340.40,361.78 L341.40,361.43 L342.40,361.15 L343.40,360.93 L344.40,360.77 L345.40,360.66 L346.40,360.61 L347.00,360.60 L347.40,360.62 L348.40,360.76 L349.40,361.04 L350.40,361.41 L351.40,361.86 L352.40,362.35 L353.40,362.88 L354.40,363.42 L355.40,363.98 L356.40,364.54 L357.40,365.10 L358.40,365.64 L359.40,366.18 L360.40,366.70 L361.40,367.20 L362.40,367.68 L363.40,368.15 L364.40,368.60 L365.40,369.02 L366.40,369.43 L367.40,369.82 L368.40,370.19 L369.40,370.54 L370.40,370.86 L371.40,371.17 L372.40,371.47 L373.40,371.74 L374.40,371.99 L375.40,372.23 L376.40,372.45 L377.40,372.65 L378.40,372.84 L379.40,373.00 L380.40,373.15 L381.40,373.29 L382.40,373.41 L383.40,373.53 L384.40,373.62 L385.40,373.70 L386.40,373.76 L387.40,373.82 L388.40,373.85 L389.40,373.88 L390.40,373.89 L391.40,373.90 L392.40,373.89 L393.40,373.88 L394.40,373.86 L395.40,373.83 L396.40,373.79 L397.40,373.73 L398.40,373.67 L399.40,373.60 L400.40,373.51 L401.40,373.40 L402.40,373.29 L403.40,373.15 L404.40,372.99 L405.40,372.81 L406.40,372.61 L407.40,372.37 L408.40,372.11 L409.40,371.82 L410.40,371.50 L411.40,371.14 L412.40,370.74 L413.40,370.30 L414.40,369.82 L415.40,369.29 L416.40,368.72 L416.60,368.60 L417.40,367.80 L418.40,366.84 L419.40,365.93 L420.40,365.09 L421.40,364.33 L422.40,363.64 L423.40,363.02 L424.40,362.49 L425.40,362.02 L426.40,361.63 L427.40,361.31 L428.40,361.05 L429.40,360.86 L430.40,360.72 L431.40,360.64 L432.40,360.60 L432.60,360.60 L433.40,360.66 L434.40,360.86 L435.40,361.17 L436.40,361.58 L437.40,362.05 L438.40,362.56 L439.40,363.09 L440.40,363.65 L441.40,364.21 L442.40,364.76 L443.40,365.32 L444.40,365.86 L445.40,366.39 L446.40,366.90 L447.40,367.39 L448.40,367.87 L449.40,368.33 L450.40,368.77 L451.40,369.19 L452.40,369.59 L453.40,369.97 L454.40,370.33 L455.40,370.67 L456.40,370.99 L457.40,371.29 L458.40,371.57 L459.40,371.84 L460.40,372.09 L461.40,372.31 L462.40,372.53 L463.40,372.72 L464.40,372.90 L465.40,373.07 L466.40,373.21 L467.40,373.35 L468.40,373.46 L469.40,373.56 L470.40,373.65 L471.40,373.72 L472.40,373.79 L473.40,373.83 L474.40,373.87 L475.40,373.89 L476.40,373.90 L477.40,373.90 L478.40,373.89 L479.40,373.87 L480.40,373.85 L481.40,373.81 L482.40,373.77 L483.40,373.71 L484.40,373.64 L485.40,373.56 L486.40,373.47 L487.40,373.36 L488.40,373.23 L489.40,373.09 L490.40,372.92 L491.40,372.73 L492.40,372.52 L493.40,372.27 L494.40,372.00 L495.40,371.70 L496.40,371.36 L497.40,370.98 L498.40,370.57 L499.40,370.11 L500.40,369.61 L501.40,369.07 L502.20,368.60 L502.40,368.40 L503.40,367.41 L504.40,366.47 L505.40,365.59 L506.40,364.78 L507.40,364.04 L508.40,363.38 L509.40,362.80 L510.40,362.29 L511.40,361.86 L512.40,361.49 L513.40,361.20 L514.40,360.97 L515.40,360.80 L516.40,360.68 L517.40,360.62 L518.20,360.60 L518.40,360.61 L519.40,360.72 L520.40,360.97 L521.40,361.33 L522.40,361.76 L523.40,362.25 L524.40,362.77 L525.40,363.31 L526.40,363.87 L527.40,364.43 L528.40,364.99 L529.40,365.53 L530.40,366.07 L531.40,366.59 L532.40,367.10 L533.40,367.59 L534.40,368.06 L535.40,368.51 L536.40,368.94 L537.40,369.35 L538.40,369.74 L539.40,370.12 L540.40,370.47 L541.40,370.80 L542.40,371.11 L543.40,371.41 L544.40,371.68 L545.40,371.94 L546.40,372.18 L547.40,372.40 L548.40,372.61 L549.40,372.80 L550.40,372.97 L551.40,373.13 L552.40,373.27 L553.40,373.39 L554.40,373.51 L555.40,373.60 L556.40,373.69 L557.40,373.75 L558.40,373.81 L559.40,373.85 L560.40,373.88 L561.40,373.89 L562.40,373.90 L563.40,373.89 L564.40,373.88 L565.40,373.86 L566.40,373.83 L567.40,373.79 L568.40,373.75 L569.40,373.69 L570.40,373.61 L571.40,373.53 L572.40,373.43 L573.40,373.31 L574.40,373.18 L575.40,373.02 L576.40,372.85 L577.40,372.65 L578.40,372.42 L579.40,372.17 L580.40,371.89 L581.40,371.57 L582.40,371.21 L583.40,370.82 L584.40,370.39 L585.40,369.92 L586.40,369.40 L587.40,368.84 L587.80,368.60 L588.40,367.99 L589.40,367.02 L590.40,366.11 L591.40,365.26 L592.40,364.48 L593.40,363.77 L594.40,363.14 L595.40,362.59 L596.40,362.11 L597.40,361.70 L598.40,361.37 L599.40,361.10 L600.40,360.89 L601.40,360.74 L602.40,360.65 L603.40,360.60 L603.80,360.60 L604.40,360.63 L605.40,360.81 L606.40,361.11 L607.40,361.49 L608.40,361.95 L609.40,362.45 L610.40,362.99 L611.40,363.54 L612.40,364.09 L613.40,364.65 L614.40,365.21 L615.40,365.75 L616.40,366.28 L617.40,366.80 L618.40,367.30 L619.40,367.78 L620.40,368.24 L621.40,368.69 L622.40,369.11 L623.40,369.51 L624.40,369.89 L625.40,370.26 L626.40,370.60 L627.40,370.93 L628.40,371.23 L629.40,371.52 L630.40,371.79 L631.40,372.04 L632.40,372.27 L633.40,372.49 L634.40,372.68 L635.40,372.87 L636.40,373.03 L637.40,373.18 L638.40,373.32 L639.40,373.44 L640.40,373.55 L641.40,373.63 L642.40,373.71 L643.40,373.77 L644.40,373.82 L645.40,373.86 L646.40,373.88 L647.40,373.90 L648.40,373.90 L649.40,373.89 L650.40,373.88 L651.40,373.85 L652.40,373.82 L653.40,373.78 L654.40,373.72 L655.40,373.66 L656.40,373.58 L657.40,373.49 L658.40,373.38 L659.40,373.26 L660.40,373.12 L661.40,372.95 L662.40,372.77 L663.40,372.56 L664.40,372.33 L665.40,372.06 L666.40,371.76 L667.40,371.43 L668.40,371.06 L669.40,370.65 L670.40,370.21 L671.40,369.71 L672.40,369.18 L673.40,368.60 L674.40,367.60 L675.40,366.65 L676.40,365.76 L677.40,364.94 L678.40,364.19 L679.40,363.51 L680.40,362.91 L681.40,362.39 L682.40,361.94 L683.40,361.56 L684.40,361.25 L685.40,361.01 L686.40,360.82 L687.40,360.70 L688.40,360.62 L689.40,360.60 L690.40,360.69 L691.40,360.92 L692.40,361.25 L693.40,361.67 L694.40,362.15 L695.40,362.66 L696.40,363.20 L697.40,363.76 L698.40,364.32 L699.40,364.88 L700.40,365.43 L701.40,365.96 L702.40,366.49 L703.40,367.00 L704.40,367.49 L705.40,367.97 L706.40,368.42 L707.40,368.86 L708.40,369.27 L709.40,369.67 L710.40,370.04 L711.40,370.40 L712.40,370.73 L713.40,371.05 L714.40,371.35 L715.40,371.63 L716.40,371.89 L717.40,372.13 L718.40,372.36 L719.40,372.57 L720.40,372.76 L721.40,372.93 L722.40,373.10 L723.40,373.24 L724.40,373.37 L725.40,373.48 L726.40,373.58 L727.40,373.67 L728.40,373.74 L729.40,373.80 L730.40,373.84 L731.40,373.88 L732.40,373.89 L733.40,373.90 L734.40,373.90 L735.40,373.89 L736.40,373.87 L737.40,373.84 L738.40,373.80 L739.40,373.76 L740.40,373.70 L741.40,373.63 L742.40,373.55 L743.40,373.45 L744.40,373.34 L745.40,373.20 L746.40,373.05 L747.40,372.88 L748.40,372.69 L749.40,372.47 L750.40,372.22 L751.40,371.94 L752.40,371.63 L753.40,371.29 L754.40,370.90 L755.40,370.48 L756.40,370.01 L757.40,369.50 L758.40,368.95 L759.00,368.60 L759.40,368.19 L760.40,367.21 L761.40,366.29 L762.40,365.42 L763.40,364.63 L764.40,363.91 L765.40,363.26 L766.40,362.69 L767.40,362.20 L768.40,361.78 L769.40,361.43 L770.40,361.15 L771.40,360.93 L772.40,360.77 L773.40,360.66 L774.40,360.61 L775.00,360.60 L775.40,360.62 L776.40,360.76 L777.40,361.04 L778.40,361.41 L779.40,361.86 L780.40,362.35 L781.40,362.88 L782.40,363.42 L783.40,363.98 L784.40,364.54 L785.40,365.10 L786.40,365.64 L787.40,366.18 L788.40,366.70 L789.40,367.20 L790.40,367.68 L791.40,368.15 L792.40,368.60 L793.40,369.02 L794.40,369.43 L795.40,369.82 L796.40,370.19 L797.40,370.54 L798.40,370.86 L799.40,371.17 L800.40,371.47 L801.40,371.74 L802.40,371.99 L803.40,372.23 L804.40,372.45 L805.40,372.65 L806.40,372.84 L807.40,373.00 L808.40,373.15 L809.40,373.29 L810.40,373.41 L811.40,373.53 L812.40,373.62 L813.40,373.70 L814.40,373.76 L815.40,373.82 L816.40,373.85 L817.40,373.88 L818.40,373.89 L819.40,373.90 L820.40,373.89 L821.40,373.88 L822.40,373.86 L823.40,373.83 L824.40,373.79 L825.40,373.73 L826.40,373.67 L827.40,373.60 L828.40,373.51 L829.40,373.40 L830.40,373.29 L831.40,373.15 L832.40,372.99 L833.40,372.81 L834.40,372.61 L835.40,372.37 L836.40,372.11 L837.40,371.82 L838.40,371.50 L839.40,371.14 L840.40,370.74 L841.40,370.30 L842.40,369.82 L843.40,369.29 L844.40,368.72 L844.60,368.60 L845.40,367.80 L846.40,366.84 L847.40,365.93 L848.40,365.09 L849.40,364.33 L850.40,363.64 L851.40,363.02 L852.40,362.49 L853.40,362.02 L854.40,361.63 L855.40,361.31 L855.50,361.28"/>
<path d="M145.20,383.33 L146.20,382.61 L147.20,381.96 L148.20,381.39 L149.20,380.90 L150.20,380.48 L151.20,380.13 L152.20,379.85 L153.20,379.63 L154.20,379.47 L155.20,379.36 L156.20,379.31 L156.80,379.30 L157.20,379.32 L158.20,379.46 L159.20,379.74 L160.20,380.11 L161.20,380.56 L162.20,381.05 L163.20,381.58 L164.20,382.12 L165.20,382.68 L166.20,383.24 L167.20,383.80 L168.20,384.34 L169.20,384.88 L170.20,385.40 L171.20,385.90 L172.20,386.38 L173.20,386.85 L174.20,387.30 L175.20,387.72 L176.20,388.13 L177.20,388.52 L178.20,388.89 L179.20,389.24 L180.20,389.56 L181.20,389.87 L182.20,390.17 L183.20,390.44 L184.20,390.69 L185.20,390.93 L186.20,391.15 L187.20,391.35 L188.20,391.54 L189.20,391.70 L190.20,391.85 L191.20,391.99 L192.20,392.11 L193.20,392.23 L194.20,392.32 L195.20,392.40 L196.20,392.46 L197.20,392.52 L198.20,392.55 L199.20,392.58 L200.20,392.59 L201.20,392.60 L202.20,392.59 L203.20,392.58 L204.20,392.56 L205.20,392.53 L206.20,392.49 L207.20,392.43 L208.20,392.37 L209.20,392.30 L210.20,392.21 L211.20,392.10 L212.20,391.99 L213.20,391.85 L214.20,391.69 L215.20,391.51 L216.20,391.31 L217.20,391.07 L218.20,390.81 L219.20,390.52 L220.20,390.20 L221.20,389.84 L222.20,389.44 L223.20,389.00 L224.20,388.52 L225.20,387.99 L226.20,387.42 L226.40,387.30 L227.20,386.50 L228.20,385.54 L229.20,384.63 L230.20,383.79 L231.20,383.03 L232.20,382.34 L233.20,381.72 L234.20,381.19 L235.20,380.72 L236.20,380.33 L237.20,380.01 L238.20,379.75 L239.20,379.56 L240.20,379.42 L241.20,379.34 L242.20,379.30 L242.40,379.30 L243.20,379.36 L244.20,379.56 L245.20,379.87 L246.20,380.28 L247.20,380.75 L248.20,381.26 L249.20,381.79 L250.20,382.35 L251.20,382.91 L252.20,383.46 L253.20,384.02 L254.20,384.56 L255.20,385.09 L256.20,385.60 L257.20,386.09 L258.20,386.57 L259.20,387.03 L260.20,387.47 L261.20,387.89 L262.20,388.29 L263.20,388.67 L264.20,389.03 L265.20,389.37 L266.20,389.69 L267.20,389.99 L268.20,390.27 L269.20,390.54 L270.20,390.79 L271.20,391.01 L272.20,391.23 L273.20,391.42 L274.20,391.60 L275.20,391.77 L276.20,391.91 L277.20,392.05 L278.20,392.16 L279.20,392.26 L280.20,392.35 L281.20,392.42 L282.20,392.49 L283.20,392.53 L284.20,392.57 L285.20,392.59 L286.20,392.60 L287.20,392.60 L288.20,392.59 L289.20,392.57 L290.20,392.55 L291.20,392.51 L292.20,392.47 L293.20,392.41 L294.20,392.34 L295.20,392.26 L296.20,392.17 L297.20,392.06 L298.20,391.93 L299.20,391.79 L300.20,391.62 L301.20,391.43 L302.20,391.22 L303.20,390.97 L304.20,390.70 L305.20,390.40 L306.20,390.06 L307.20,389.68 L308.20,389.27 L309.20,388.81 L310.20,388.31 L311.20,387.77 L312.00,387.30 L312.20,387.10 L313.20,386.11 L314.20,385.17 L315.20,384.29 L316.20,383.48 L317.20,382.74 L318.20,382.08 L319.20,381.50 L320.20,380.99 L321.20,380.56 L322.20,380.19 L323.20,379.90 L324.20,379.67 L325.20,379.50 L326.20,379.38 L327.20,379.32 L328.00,379.30 L328.20,379.31 L329.20,379.42 L330.20,379.67 L331.20,380.03 L332.20,380.46 L333.20,380.95 L334.20,381.47 L335.20,382.01 L336.20,382.57 L337.20,383.13 L338.20,383.69 L339.20,384.23 L340.20,384.77 L341.20,385.29 L342.20,385.80 L343.20,386.29 L344.20,386.76 L345.20,387.21 L346.20,387.64 L347.20,388.05 L348.20,388.44 L349.20,388.82 L350.20,389.17 L351.20,389.50 L352.20,389.81 L353.20,390.11 L354.20,390.38 L355.20,390.64 L356.20,390.88 L357.20,391.10 L358.20,391.31 L359.20,391.50 L360.20,391.67 L361.20,391.83 L362.20,391.97 L363.20,392.09 L364.20,392.21 L365.20,392.30 L366.20,392.39 L367.20,392.45 L368.20,392.51 L369.20,392.55 L370.20,392.58 L371.20,392.59 L372.20,392.60 L373.20,392.59 L374.20,392.58 L375.20,392.56 L376.20,392.53 L377.20,392.49 L378.20,392.45 L379.20,392.39 L380.20,392.31 L381.20,392.23 L382.20,392.13 L383.20,392.01 L384.20,391.88 L385.20,391.72 L386.20,391.55 L387.20,391.35 L388.20,391.12 L389.20,390.87 L390.20,390.59 L391.20,390.27 L392.20,389.91 L393.20,389.52 L394.20,389.09 L395.20,388.62 L396.20,388.10 L397.20,387.54 L397.60,387.30 L398.20,386.69 L399.20,385.72 L400.20,384.81 L401.20,383.96 L402.20,383.18 L403.20,382.47 L404.20,381.84 L405.20,381.29 L406.20,380.81 L407.20,380.40 L408.20,380.07 L409.20,379.80 L410.20,379.59 L411.20,379.44 L412.20,379.35 L413.20,379.30 L413.60,379.30 L414.20,379.33 L415.20,379.51 L416.20,379.81 L417.20,380.19 L418.20,380.65 L419.20,381.15 L420.20,381.69 L421.20,382.24 L422.20,382.79 L423.20,383.35 L424.20,383.91 L425.20,384.45 L426.20,384.98 L427.20,385.50 L428.20,386.00 L429.20,386.48 L430.20,386.94 L431.20,387.39 L432.20,387.81 L433.20,388.21 L434.20,388.59 L435.20,388.96 L436.20,389.30 L437.20,389.63 L438.20,389.93 L439.20,390.22 L440.20,390.49 L441.20,390.74 L442.20,390.97 L443.20,391.19 L444.20,391.38 L445.20,391.57 L446.20,391.73 L447.20,391.88 L448.20,392.02 L449.20,392.14 L450.20,392.25 L451.20,392.33 L452.20,392.41 L453.20,392.47 L454.20,392.52 L455.20,392.56 L456.20,392.58 L457.20,392.60 L458.20,392.60 L459.20,392.59 L460.20,392.58 L461.20,392.55 L462.20,392.52 L463.20,392.48 L464.20,392.42 L465.20,392.36 L466.20,392.28 L467.20,392.19 L468.20,392.08 L469.20,391.96 L470.20,391.82 L471.20,391.65 L472.20,391.47 L473.20,391.26 L474.20,391.03 L475.20,390.76 L476.20,390.46 L477.20,390.13 L478.20,389.76 L479.20,389.35 L480.20,388.91 L481.20,388.41 L482.20,387.88 L483.20,387.30 L484.20,386.30 L485.20,385.35 L486.20,384.46 L487.20,383.64 L488.20,382.89 L489.20,382.21 L490.20,381.61 L491.20,381.09 L492.20,380.64 L493.20,380.26 L494.20,379.95 L495.20,379.71 L496.20,379.52 L497.20,379.40 L498.20,379.32 L499.20,379.30 L500.20,379.39 L501.20,379.62 L502.20,379.95 L503.20,380.37 L504.20,380.85 L505.20,381.36 L506.20,381.90 L507.20,382.46 L508.20,383.02 L509.20,383.58 L510.20,384.13 L511.20,384.66 L512.20,385.19 L513.20,385.70 L514.20,386.19 L515.20,386.67 L516.20,387.12 L517.20,387.56 L518.20,387.97 L519.20,388.37 L520.20,388.74 L521.20,389.10 L522.20,389.43 L523.20,389.75 L524.20,390.05 L525.20,390.33 L526.20,390.59 L527.20,390.83 L528.20,391.06 L529.20,391.27 L530.20,391.46 L531.20,391.63 L532.20,391.80 L533.20,391.94 L534.20,392.07 L535.20,392.18 L536.20,392.28 L537.20,392.37 L538.20,392.44 L539.20,392.50 L540.20,392.54 L541.20,392.58 L542.20,392.59 L543.20,392.60 L544.20,392.60 L545.20,392.59 L546.20,392.57 L547.20,392.54 L548.20,392.50 L549.20,392.46 L550.20,392.40 L551.20,392.33 L552.20,392.25 L553.20,392.15 L554.20,392.04 L555.20,391.90 L556.20,391.75 L557.20,391.58 L558.20,391.39 L559.20,391.17 L560.20,390.92 L561.20,390.64 L562.20,390.33 L563.20,389.99 L564.20,389.60 L565.20,389.18 L566.20,388.71 L567.20,388.20 L568.20,387.65 L568.80,387.30 L569.20,386.89 L570.20,385.91 L571.20,384.99 L572.20,384.12 L573.20,383.33 L574.20,382.61 L575.20,381.96 L576.20,381.39 L577.20,380.90 L578.20,380.48 L579.20,380.13 L580.20,379.85 L581.20,379.63 L582.20,379.47 L583.20,379.36 L584.20,379.31 L584.80,379.30 L585.20,379.32 L586.20,379.46 L587.20,379.74 L588.20,380.11 L589.20,380.56 L590.20,381.05 L591.20,381.58 L592.20,382.12 L593.20,382.68 L594.20,383.24 L595.20,383.80 L596.20,384.34 L597.20,384.88 L598.20,385.40 L599.20,385.90 L600.20,386.38 L601.20,386.85 L602.20,387.30 L603.20,387.72 L604.20,388.13 L605.20,388.52 L606.20,388.89 L607.20,389.24 L608.20,389.56 L609.20,389.87 L610.20,390.17 L611.20,390.44 L612.20,390.69 L613.20,390.93 L614.20,391.15 L615.20,391.35 L616.20,391.54 L617.20,391.70 L618.20,391.85 L619.20,391.99 L620.20,392.11 L621.20,392.23 L622.20,392.32 L623.20,392.40 L624.20,392.46 L625.20,392.52 L626.20,392.55 L627.20,392.58 L628.20,392.59 L629.20,392.60 L630.20,392.59 L631.20,392.58 L632.20,392.56 L633.20,392.53 L634.20,392.49 L635.20,392.43 L636.20,392.37 L637.20,392.30 L638.20,392.21 L639.20,392.10 L640.20,391.99 L641.20,391.85 L642.20,391.69 L643.20,391.51 L644.20,391.31 L645.20,391.07 L646.20,390.81 L647.20,390.52 L648.20,390.20 L649.20,389.84 L650.20,389.44 L651.20,389.00 L652.20,388.52 L653.20,387.99 L654.20,387.42 L654.40,387.30 L655.20,386.50 L656.20,385.54 L657.20,384.63 L658.20,383.79 L659.20,383.03 L660.20,382.34 L661.20,381.72 L662.20,381.19 L663.20,380.72 L664.20,380.33 L665.20,380.01 L666.20,379.75 L667.20,379.56 L668.20,379.42 L669.20,379.34 L670.20,379.30 L670.40,379.30 L671.20,379.36 L672.20,379.56 L673.20,379.87 L674.20,380.28 L675.20,380.75 L676.20,381.26 L677.20,381.79 L678.20,382.35 L679.20,382.91 L680.20,383.46 L681.20,384.02 L682.20,384.56 L683.20,385.09 L684.20,385.60 L685.20,386.09 L686.20,386.57 L687.20,387.03 L688.20,387.47 L689.20,387.89 L690.20,388.29 L691.20,388.67 L692.20,389.03 L693.20,389.37 L694.20,389.69 L695.20,389.99 L696.20,390.27 L697.20,390.54 L698.20,390.79 L699.20,391.01 L700.20,391.23 L701.20,391.42 L702.20,391.60 L703.20,391.77 L704.20,391.91 L705.20,392.05 L706.20,392.16 L707.20,392.26 L708.20,392.35 L709.20,392.42 L710.20,392.49 L711.20,392.53 L712.20,392.57 L713.20,392.59 L714.20,392.60 L715.20,392.60 L716.20,392.59 L717.20,392.57 L718.20,392.55 L719.20,392.51 L720.20,392.47 L721.20,392.41 L722.20,392.34 L723.20,392.26 L724.20,392.17 L725.20,392.06 L726.20,391.93 L727.20,391.79 L728.20,391.62 L729.20,391.43 L730.20,391.22 L731.20,390.97 L732.20,390.70 L733.20,390.40 L734.20,390.06 L735.20,389.68 L736.20,389.27 L737.20,388.81 L738.20,388.31 L739.20,387.77 L740.00,387.30 L740.20,387.10 L741.20,386.11 L742.20,385.17 L743.20,384.29 L744.20,383.48 L745.20,382.74 L746.20,382.08 L747.20,381.50 L748.20,380.99 L749.20,380.56 L750.20,380.19 L751.20,379.90 L752.20,379.67 L753.20,379.50 L754.20,379.38 L755.20,379.32 L756.00,379.30 L756.20,379.31 L757.20,379.42 L758.20,379.67 L759.20,380.03 L760.20,380.46 L761.20,380.95 L762.20,381.47 L763.20,382.01 L764.20,382.57 L765.20,383.13 L766.20,383.69 L767.20,384.23 L768.20,384.77 L769.20,385.29 L770.20,385.80 L771.20,386.29 L772.20,386.76 L773.20,387.21 L774.20,387.64 L775.20,388.05 L776.20,388.44 L777.20,388.82 L778.20,389.17 L779.20,389.50 L780.20,389.81 L781.20,390.11 L782.20,390.38 L783.20,390.64 L784.20,390.88 L785.20,391.10 L786.20,391.31 L787.20,391.50 L788.20,391.67 L789.20,391.83 L790.20,391.97 L791.20,392.09 L792.20,392.21 L793.20,392.30 L794.20,392.39 L795.20,392.45 L796.20,392.51 L797.20,392.55 L798.20,392.58 L799.20,392.59 L800.20,392.60 L801.20,392.60 L802.20,392.59 L803.20,392.58 L804.20,392.56 L805.20,392.53 L806.20,392.49 L807.20,392.45 L808.20,392.39 L809.20,392.31 L810.20,392.23 L811.20,392.13 L812.20,392.01 L813.20,391.88 L814.20,391.72 L815.20,391.55 L816.20,391.35 L817.20,391.12 L818.20,390.87 L819.20,390.59 L820.20,390.27 L821.20,389.91 L822.20,389.52 L823.20,389.09 L824.20,388.62 L825.20,388.10 L826.20,387.54 L826.60,387.30 L827.20,386.69 L828.20,385.72 L829.20,384.81 L830.20,383.96 L831.20,383.18 L832.20,382.47 L833.20,381.84 L834.20,381.29 L835.20,380.81 L836.20,380.40 L837.20,380.07 L838.20,379.80 L839.20,379.59 L840.20,379.44 L841.20,379.35 L842.20,379.30 L842.60,379.30 L843.20,379.33 L844.20,379.51 L845.20,379.81 L846.20,380.19 L847.20,380.65 L848.20,381.15 L849.20,381.69 L850.20,382.24 L851.20,382.79 L852.20,383.35 L853.20,383.91 L854.20,384.45 L855.20,384.98 L855.50,385.14"/>
<path d="M324.60,278.00 L304.60,297.50"/>
<path d="M305.00,303.20 L245.80,363.00"/>
<path d="M245.40,368.60 L226.40,387.30"/>
<path d="M410.20,278.00 L390.20,297.50"/>
<path d="M390.60,303.20 L331.40,363.00"/>
<path d="M331.00,368.60 L312.00,387.30"/>
<path d="M495.80,278.00 L475.80,297.50"/>
<path d="M476.20,303.20 L417.00,363.00"/>
<path d="M416.60,368.60 L397.60,387.30"/>
<path d="M581.40,278.00 L561.40,297.50"/>
<path d="M561.80,303.20 L502.60,363.00"/>
<path d="M502.20,368.60 L483.20,387.30"/>
<path d="M667.00,278.00 L647.00,297.50"/>
<path d="M647.40,303.20 L588.20,363.00"/>
<path d="M587.80,368.60 L568.80,387.30"/>
<path d="M752.60,278.00 L732.60,297.50"/>
<path d="M733.00,303.20 L673.80,363.00"/>
<path d="M673.40,368.60 L654.40,387.30"/>
<path d="M840.70,278.00 L822.20,297.50"/>
<path d="M821.60,303.20 L759.40,363.00"/>
<path d="M759.00,368.60 L740.00,387.30"/>
<path d="M855.50,352.91 L845.00,363.00"/>
<path d="M844.60,368.60 L826.60,387.30"/>
<path d="M778.40,273.40 L759.20,292.60"/>
<path d="M758.40,297.60 L698.40,357.80"/>
<path d="M696.80,364.20 L680.00,381.00"/>
<path d="M263.60,273.20 L244.40,292.80"/>
<path d="M244.80,298.80 L184.40,356.80"/>
<path d="M186.00,364.00 L166.80,381.60"/>
<path d="M235.4,279.2 L234.6,278.4 L232.2,277.5 L212.6,297.2 L213.5,303.2 Q213.9,304.2 215.6,304.4"/>
<path d="M234.8,279 L225.8,290.2 L219.8,296 Q216.6,298.6 212.8,297.4"/>
<path d="M213.2,303.2 L153.2,362.4 L153.2,367 Q153.6,368.4 156.4,368.6"/>
<path d="M216.8,304.4 L157.6,362.8 Q155,364.4 153.2,362.6"/>
<path d="M153.2,368 L134.4,386.4 Q134.6,388.6 138,388.4 L157.2,369.4"/>
<path d="M256.4,270.4 L242.2,284.4 Q241.6,286.8 245.0,286.2 L259.4,271.6"/>
<path d="M182.8,349.2 L230.6,301.8 Q232.6,300.2 234.2,302.6 L186.2,350.6 Q183.4,352.4 182.8,349.2 Z"/>
<path d="M159.2,379.4 L171.8,365.8 Q173.8,364.2 175.4,366.6 L162.2,380.4"/>
<path d="M855.5,264.5 L855.5,318.4 L846.4,325.6 L864,331.2 L855.5,337.6 L855.5,394.4"/>
<path d="M656.46,384.26 L656.40,382.85 L656.43,381.44 L656.54,380.03 L656.73,378.63 L657.01,377.25 L657.37,375.88 L657.81,374.54 L658.32,373.22 L658.92,371.94 L659.59,370.70 L660.33,369.50 L661.14,368.34 L662.02,367.24 L662.96,366.19 L663.97,365.19 L665.03,364.26 L666.14,363.39 L667.31,362.59 L668.52,361.87 L669.77,361.21 L671.05,360.63 L672.37,360.12 L673.72,359.70 L675.09,359.36 L676.48,359.09 L677.88,358.91 L679.29,358.82 L680.70,358.81 L682.11,358.88 L683.51,359.03 L684.90,359.27 L686.28,359.59 L687.63,359.99 L688.96,360.47 L690.26,361.03 L691.52,361.66 L692.74,362.37 L693.92,363.15 L695.05,364.00 L696.13,364.91 L697.15,365.89 L698.11,366.92 L699.01,368.01 L699.84,369.15 L700.60,370.34 L701.29,371.57 L701.91,372.84 L702.45,374.15 L702.91,375.48 L703.29,376.84 L703.59,378.22 L703.81,379.62 L703.95,381.02 L704.00,382.43 L703.97,383.85 L703.85,385.25 L703.65,386.65 L703.37,388.03 L703.01,389.40 L702.56,390.74"/>
</g>
<g fill="#2a2a2a" stroke="none">
<circle cx="778.4" cy="273.4" r="0.9"/><circle cx="759.2" cy="292.6" r="0.9"/><circle cx="758.4" cy="297.6" r="0.9"/><circle cx="698.4" cy="357.8" r="0.9"/><circle cx="696.8" cy="364.2" r="0.9"/><circle cx="680" cy="381" r="0.9"/><circle cx="263.6" cy="273.2" r="0.9"/><circle cx="244.4" cy="292.8" r="0.9"/><circle cx="244.8" cy="298.8" r="0.9"/><circle cx="184.4" cy="356.8" r="0.9"/><circle cx="186" cy="364" r="0.9"/><circle cx="166.8" cy="381.6" r="0.9"/>
</g>
<g fill="none" stroke="#5c5c5c" stroke-width="1.9">
<path d="M92.7,350 L92.7,431.5"/>
<path d="M87.5,355.5 L264,355.5"/>
<path d="M88.5,392.5 L201.5,392.5"/>
</g>
<g fill="none" stroke="#303030" stroke-width="1.3">
<path d="M131.4,562.3 L913.4,562.3"/>
<path d="M131.4,555 L131.4,631"/>
<path d="M913.4,555 L913.4,630"/>
<path d="M388.8,601.1 L521.6,601.1"/>
<path d="M388.8,592.3 L388.8,634"/>
<path d="M521.6,592.3 L521.6,634"/>
<path d="M76,685.6 L930.5,685.6"/>
<path d="M76,646 L76,693"/>
<path d="M930.5,638 L930.5,693"/>
<path d="M954.6,558.5 L954.6,661"/>
<path d="M913.5,628 L960,628"/>
<path d="M870,647.4 L960,647.4"/>
<path d="M114.5,733 L364.2,733"/>
<path d="M114.5,725.5 L114.5,774"/>
<path d="M364.2,725.5 L364.2,764"/>
<path d="M54.1,721.5 L54.1,787.5"/>
<path d="M46.4,774.2 L114,774.2"/>
<path d="M46.4,784.2 L78,784.2"/>
</g>
<g fill="none" stroke="#111" stroke-width="1.5">
<path d="M128.0,565.3 L134.6,559.6"/>
<path d="M910.0,565.3 L916.6,559.6"/>
<path d="M385.4,604.1 L392.0,598.4"/>
<path d="M518.2,604.1 L524.8,598.4"/>
<path d="M72.6,688.6 L79.2,682.9"/>
<path d="M927.1,688.6 L933.7,682.9"/>
<path d="M951.2,631.0 L957.8,625.3"/>
<path d="M951.2,650.4 L957.8,644.7"/>
<path d="M111.1,736.0 L117.7,730.3"/>
<path d="M360.8,736.0 L367.4,730.3"/>
<path d="M50.7,777.2 L57.3,771.5"/>
<path d="M50.7,787.2 L57.3,781.5"/>
</g>
<path d="M76.0,642.6 C76.6,642.8 78.4,644.1 79.4,644.0 C80.4,643.9 81.0,642.9 82.0,642.2 C83.0,641.5 84.2,640.0 85.2,639.8 C86.2,639.6 87.0,640.2 88.0,640.8 C89.0,641.4 89.9,642.5 91.0,643.2 C92.1,643.9 93.4,644.8 94.8,644.8 C96.2,644.8 97.4,644.4 99.6,643.2 C101.8,642.0 105.0,639.0 108.0,637.4 C111.0,635.8 114.4,634.4 117.6,633.4 C120.8,632.4 124.9,631.8 127.2,631.6 C129.5,631.4 130.3,631.7 131.5,632.2 C132.7,632.7 133.7,634.0 134.6,634.4 C135.5,634.8 136.2,634.6 137.0,634.6 C137.8,634.6 138.2,634.1 139.4,634.4 C140.6,634.7 142.2,635.5 144.0,636.6 C145.8,637.7 148.0,639.7 150.0,640.8 C152.0,641.9 153.8,642.4 156.0,643.0 C158.2,643.6 160.7,644.3 163.0,644.6 C165.3,644.9 168.8,644.9 170.0,644.9 L215.0,644.9 C222.0,644.9 228.0,643.8 235.0,640.3 C243.0,636.0 249.0,631.2 257.0,631.2 C265.0,631.2 271.0,636.0 279.0,640.3 C286.0,643.8 292.0,644.9 299.0,644.9 L346.8,644.9 C353.8,644.9 359.8,643.8 366.8,640.3 C374.8,636.0 380.8,631.2 388.8,631.2 C396.8,631.2 402.8,636.0 410.8,640.3 C417.8,643.8 423.8,644.9 430.8,644.9 L478.5,644.9 C485.5,644.9 491.5,643.8 498.5,640.3 C506.5,636.0 512.5,631.2 520.5,631.2 C528.5,631.2 534.5,636.0 542.5,640.3 C549.5,643.8 555.5,644.9 562.5,644.9 L607.2,644.9 C614.2,644.9 620.2,643.8 627.2,640.3 C635.2,636.0 641.2,631.2 649.2,631.2 C657.2,631.2 663.2,636.0 671.2,640.3 C678.2,643.8 684.2,644.9 691.2,644.9 L738.5,644.9 C745.5,644.9 751.5,643.8 758.5,640.3 C766.5,636.0 772.5,631.2 780.5,631.2 C788.5,631.2 794.5,636.0 802.5,640.3 C809.5,643.8 815.5,644.9 822.5,644.9 L871.4,644.9 C878.4,644.9 884.4,643.8 891.4,640.3 C899.4,636.0 905.4,631.2 913.4,631.2 C919.4,631.2 926.4,633.2 930.9,638.2" fill="none" stroke="#0a0a0a" stroke-width="3.6" stroke-linecap="round" stroke-linejoin="round"/>
<path d="M77.6,784.2 L114.5,784.2 L114.5,774.2 L364.2,774.2 L364.2,764.1 L594.6,764.1 L594.6,753 L658.8,753" fill="none" stroke="#0a0a0a" stroke-width="3.5" stroke-linecap="butt" stroke-linejoin="miter"/>
<text transform="translate(112.21,432.3) scale(1.0791,1)" font-family="Liberation Sans, sans-serif" font-weight="normal" font-size="17.6" fill="#2a2a2a">3</text>
<text transform="translate(122.56,432.3) scale(1.2607,1)" font-family="Liberation Sans, sans-serif" font-weight="normal" font-size="17.6" fill="#2a2a2a">9</text>
<text class="t" id="t1100" x="527" y="557.4" text-anchor="middle" font-size="22">1100</text>
<text class="t" id="t183" x="454" y="598.5" text-anchor="middle" font-size="22">183.3</text>
<text class="t" id="t1190" x="515" y="677.3" text-anchor="middle" font-size="22.5">1190</text>
<text class="t" id="t350" x="231.6" y="729" text-anchor="middle" font-size="22">350</text>
<text class="t" id="t25" transform="translate(952.4,596.3) rotate(-90)" text-anchor="middle" font-size="23">25</text>
<text class="t" id="t14" transform="translate(52.7,747.3) rotate(-90)" text-anchor="middle" font-size="22">14</text>
</svg>
</body></html>
